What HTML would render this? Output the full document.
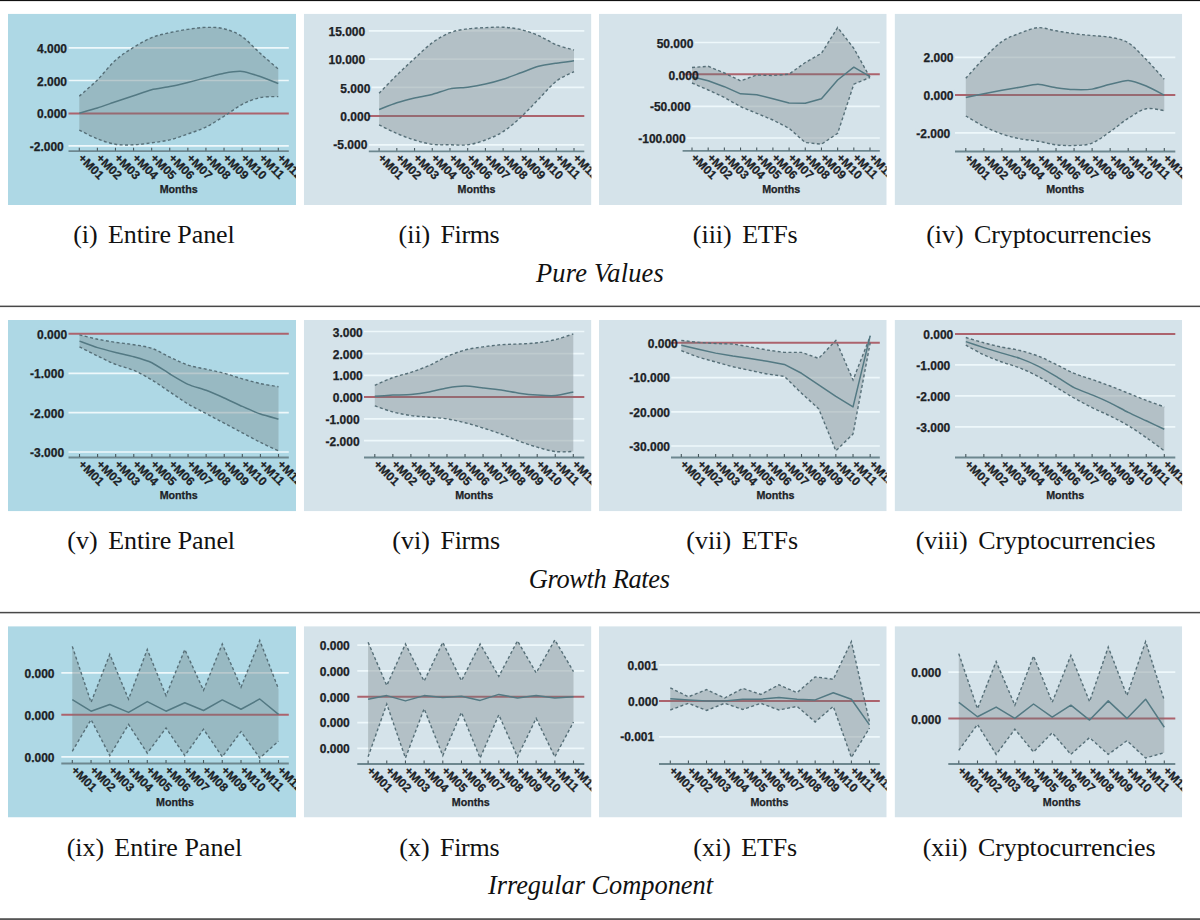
<!DOCTYPE html>
<html><head><meta charset="utf-8"><style>
html,body{margin:0;padding:0;background:#fff;}
body{width:1200px;height:920px;position:relative;overflow:hidden;}
svg{position:absolute;left:0;top:0;}
.yl{font-family:"Liberation Sans",sans-serif;font-weight:bold;font-size:12px;fill:#1c2226;stroke:#1c2226;stroke-width:0.25px;}
.xl{font-family:"Liberation Sans",sans-serif;font-weight:bold;font-size:12px;fill:#1c2226;stroke:#1c2226;stroke-width:0.25px;}
.ml{font-family:"Liberation Sans",sans-serif;font-weight:bold;font-size:10.7px;fill:#1c2226;stroke:#1c2226;stroke-width:0.25px;}
.cap{font-family:"Liberation Serif",serif;font-size:26px;fill:#111;}
.tit{font-family:"Liberation Serif",serif;font-style:italic;font-size:26.4px;fill:#111;}
</style></head><body>
<svg width="1200" height="920" viewBox="0 0 1200 920">

<rect x="0" y="0" width="1200" height="1.1" fill="#111"/>
<rect x="0" y="305.6" width="1200" height="1.5" fill="#484848"/>
<rect x="0" y="611.85" width="1200" height="1.5" fill="#484848"/>
<rect x="0" y="918.2" width="1200" height="1.8" fill="#555"/>
<clipPath id="cp0"><rect x="8" y="13.7" width="288" height="191.3"/></clipPath>
<g clip-path="url(#cp0)">
<rect x="8" y="13.7" width="288" height="191.3" fill="#aed8e5"/>
<mask id="gm0" maskUnits="userSpaceOnUse" x="8" y="13.7" width="288" height="191.3"><rect x="8" y="13.7" width="288" height="191.3" fill="#fff"/><path d="M79.3,96.2 C82.32,93.48 91.36,85.88 97.39,79.88 C103.42,73.88 109.45,65.62 115.48,60.21 C121.51,54.8 127.54,51.2 133.57,47.43 C139.6,43.66 145.63,40.06 151.66,37.6 C157.69,35.14 163.72,34.06 169.75,32.68 C175.78,31.3 181.82,30.23 187.85,29.34 C193.88,28.45 199.91,27.47 205.94,27.37 C211.97,27.27 218,27.21 224.03,28.75 C230.06,30.29 236.09,32.52 242.12,36.62 C248.15,40.72 254.18,47.92 260.21,53.33 C266.24,58.74 275.28,66.44 278.3,69.06 L278.3,96.6 C275.28,96.76 266.24,96.27 260.21,97.58 C254.18,98.89 248.15,101.35 242.12,104.46 C236.09,107.57 230.06,112.49 224.03,116.26 C218,120.03 211.97,124.13 205.94,127.08 C199.91,130.03 193.88,131.83 187.85,133.96 C181.82,136.09 175.78,138.39 169.75,139.86 C163.72,141.34 157.69,141.99 151.66,142.81 C145.63,143.63 139.6,144.55 133.57,144.78 C127.54,145.01 121.51,145.17 115.48,144.19 C109.45,143.21 103.42,141.24 97.39,138.88 C91.36,136.52 82.32,131.5 79.3,130.03 Z" fill="#bbb"/></mask>
<g mask="url(#gm0)">
<line x1="68.5" y1="47.8" x2="288.8" y2="47.8" stroke="#eef8fb" stroke-width="1.7"/>
<line x1="68.5" y1="80.5" x2="288.8" y2="80.5" stroke="#eef8fb" stroke-width="1.7"/>
<line x1="68.5" y1="145.9" x2="288.8" y2="145.9" stroke="#eef8fb" stroke-width="1.7"/>
</g>
<rect x="35.98" y="42.9" width="32.22" height="11" fill="#aed8e5"/>
<rect x="35.98" y="75.3" width="32.22" height="11" fill="#aed8e5"/>
<rect x="35.98" y="107.9" width="32.22" height="11" fill="#aed8e5"/>
<rect x="28.78" y="140.8" width="36.22" height="11" fill="#aed8e5"/>
<line x1="68.5" y1="113.4" x2="288.8" y2="113.4" stroke="#ac636d" stroke-width="2"/>
<path d="M79.3,96.2 C82.32,93.48 91.36,85.88 97.39,79.88 C103.42,73.88 109.45,65.62 115.48,60.21 C121.51,54.8 127.54,51.2 133.57,47.43 C139.6,43.66 145.63,40.06 151.66,37.6 C157.69,35.14 163.72,34.06 169.75,32.68 C175.78,31.3 181.82,30.23 187.85,29.34 C193.88,28.45 199.91,27.47 205.94,27.37 C211.97,27.27 218,27.21 224.03,28.75 C230.06,30.29 236.09,32.52 242.12,36.62 C248.15,40.72 254.18,47.92 260.21,53.33 C266.24,58.74 275.28,66.44 278.3,69.06 L278.3,96.6 C275.28,96.76 266.24,96.27 260.21,97.58 C254.18,98.89 248.15,101.35 242.12,104.46 C236.09,107.57 230.06,112.49 224.03,116.26 C218,120.03 211.97,124.13 205.94,127.08 C199.91,130.03 193.88,131.83 187.85,133.96 C181.82,136.09 175.78,138.39 169.75,139.86 C163.72,141.34 157.69,141.99 151.66,142.81 C145.63,143.63 139.6,144.55 133.57,144.78 C127.54,145.01 121.51,145.17 115.48,144.19 C109.45,143.21 103.42,141.24 97.39,138.88 C91.36,136.52 82.32,131.5 79.3,130.03 Z" fill="rgba(110,120,125,0.33)"/>
<path d="M79.3,96.2 C82.32,93.48 91.36,85.88 97.39,79.88 C103.42,73.88 109.45,65.62 115.48,60.21 C121.51,54.8 127.54,51.2 133.57,47.43 C139.6,43.66 145.63,40.06 151.66,37.6 C157.69,35.14 163.72,34.06 169.75,32.68 C175.78,31.3 181.82,30.23 187.85,29.34 C193.88,28.45 199.91,27.47 205.94,27.37 C211.97,27.27 218,27.21 224.03,28.75 C230.06,30.29 236.09,32.52 242.12,36.62 C248.15,40.72 254.18,47.92 260.21,53.33 C266.24,58.74 275.28,66.44 278.3,69.06" fill="none" stroke="#566f78" stroke-width="1.4" stroke-dasharray="3,2.4"/>
<path d="M79.3,130.03 C82.32,131.5 91.36,136.52 97.39,138.88 C103.42,141.24 109.45,143.21 115.48,144.19 C121.51,145.17 127.54,145.01 133.57,144.78 C139.6,144.55 145.63,143.63 151.66,142.81 C157.69,141.99 163.72,141.34 169.75,139.86 C175.78,138.39 181.82,136.09 187.85,133.96 C193.88,131.83 199.91,130.03 205.94,127.08 C211.97,124.13 218,120.03 224.03,116.26 C230.06,112.49 236.09,107.57 242.12,104.46 C248.15,101.35 254.18,98.89 260.21,97.58 C266.24,96.27 275.28,96.76 278.3,96.6" fill="none" stroke="#566f78" stroke-width="1.4" stroke-dasharray="3,2.4"/>
<path d="M79.3,113.2 C81.11,112.68 93.77,109.14 97.39,108 C101.01,106.86 111.86,103.02 115.48,101.8 C119.1,100.58 129.95,96.96 133.57,95.75 C137.19,94.54 148.05,90.62 151.66,89.7 C155.28,88.78 166.14,87.33 169.75,86.6 C173.37,85.87 184.23,83.28 187.85,82.4 C191.46,81.52 202.32,78.72 205.94,77.8 C209.55,76.88 220.41,73.84 224.03,73.2 C227.65,72.56 238.5,71.07 242.12,71.4 C245.74,71.73 256.59,75.29 260.21,76.5 C263.83,77.71 276.49,82.8 278.3,83.5" fill="none" stroke="#537983" stroke-width="1.5" stroke-linejoin="round"/>
<line x1="68.5" y1="151.2" x2="288.8" y2="151.2" stroke="#6d878f" stroke-width="1.8"/>
<line x1="79.3" y1="147.8" x2="79.3" y2="150.7" stroke="#46575d" stroke-width="1.1"/>
<line x1="97.39" y1="147.8" x2="97.39" y2="150.7" stroke="#46575d" stroke-width="1.1"/>
<line x1="115.48" y1="147.8" x2="115.48" y2="150.7" stroke="#46575d" stroke-width="1.1"/>
<line x1="133.57" y1="147.8" x2="133.57" y2="150.7" stroke="#46575d" stroke-width="1.1"/>
<line x1="151.66" y1="147.8" x2="151.66" y2="150.7" stroke="#46575d" stroke-width="1.1"/>
<line x1="169.75" y1="147.8" x2="169.75" y2="150.7" stroke="#46575d" stroke-width="1.1"/>
<line x1="187.85" y1="147.8" x2="187.85" y2="150.7" stroke="#46575d" stroke-width="1.1"/>
<line x1="205.94" y1="147.8" x2="205.94" y2="150.7" stroke="#46575d" stroke-width="1.1"/>
<line x1="224.03" y1="147.8" x2="224.03" y2="150.7" stroke="#46575d" stroke-width="1.1"/>
<line x1="242.12" y1="147.8" x2="242.12" y2="150.7" stroke="#46575d" stroke-width="1.1"/>
<line x1="260.21" y1="147.8" x2="260.21" y2="150.7" stroke="#46575d" stroke-width="1.1"/>
<line x1="278.3" y1="147.8" x2="278.3" y2="150.7" stroke="#46575d" stroke-width="1.1"/>
<text x="67" y="53.1" text-anchor="end" class="yl">4.000</text>
<text x="67" y="85.5" text-anchor="end" class="yl">2.000</text>
<text x="67" y="118.1" text-anchor="end" class="yl">0.000</text>
<text x="63.8" y="151" text-anchor="end" class="yl">-2.000</text>
<text transform="translate(77.5,158.7) rotate(45)" class="xl">+M01</text>
<text transform="translate(95.59,158.7) rotate(45)" class="xl">+M02</text>
<text transform="translate(113.68,158.7) rotate(45)" class="xl">+M03</text>
<text transform="translate(131.77,158.7) rotate(45)" class="xl">+M04</text>
<text transform="translate(149.86,158.7) rotate(45)" class="xl">+M05</text>
<text transform="translate(167.95,158.7) rotate(45)" class="xl">+M06</text>
<text transform="translate(186.05,158.7) rotate(45)" class="xl">+M07</text>
<text transform="translate(204.14,158.7) rotate(45)" class="xl">+M08</text>
<text transform="translate(222.23,158.7) rotate(45)" class="xl">+M09</text>
<text transform="translate(240.32,158.7) rotate(45)" class="xl">+M10</text>
<text transform="translate(258.41,158.7) rotate(45)" class="xl">+M11</text>
<text transform="translate(276.5,158.7) rotate(45)" class="xl">+M12</text>
<text x="178.65" y="192.8" text-anchor="middle" class="ml">Months</text>
</g>
<clipPath id="cp1"><rect x="303.8" y="13.7" width="287.6" height="191.3"/></clipPath>
<g clip-path="url(#cp1)">
<rect x="303.8" y="13.7" width="287.6" height="191.3" fill="#d5e3ea"/>
<mask id="gm1" maskUnits="userSpaceOnUse" x="303.8" y="13.7" width="287.6" height="191.3"><rect x="303.8" y="13.7" width="287.6" height="191.3" fill="#fff"/><path d="M379.1,93.2 C382.05,90.2 390.91,81 396.82,75.2 C402.72,69.4 408.63,63.8 414.54,58.4 C420.44,53 426.35,47.08 432.25,42.8 C438.16,38.52 444.07,35.04 449.97,32.72 C455.88,30.4 461.78,29.72 467.69,28.88 C473.6,28.04 479.5,27.96 485.41,27.68 C491.32,27.4 497.22,26.88 503.13,27.2 C509.03,27.52 514.94,28.2 520.85,29.6 C526.75,31 532.66,33.08 538.56,35.6 C544.47,38.12 550.38,42.32 556.28,44.72 C562.19,47.12 571.05,49.12 574,50 L574,71.6 C571.05,73.2 562.19,76.6 556.28,81.2 C550.38,85.8 544.47,93.2 538.56,99.2 C532.66,105.2 526.75,111.8 520.85,117.2 C514.94,122.6 509.03,127.8 503.13,131.6 C497.22,135.4 491.32,137.8 485.41,140 C479.5,142.2 473.6,144 467.69,144.8 C461.78,145.6 455.88,144.88 449.97,144.8 C444.07,144.72 438.16,145.12 432.25,144.32 C426.35,143.52 420.44,141.8 414.54,140 C408.63,138.2 402.72,136.04 396.82,133.52 C390.91,131 382.05,126.32 379.1,124.88 Z" fill="#bbb"/></mask>
<g mask="url(#gm1)">
<line x1="368.8" y1="30.8" x2="584.3" y2="30.8" stroke="#eef8fb" stroke-width="1.7"/>
<line x1="368.8" y1="59.1" x2="584.3" y2="59.1" stroke="#eef8fb" stroke-width="1.7"/>
<line x1="368.8" y1="87.4" x2="584.3" y2="87.4" stroke="#eef8fb" stroke-width="1.7"/>
<line x1="368.8" y1="144.8" x2="584.3" y2="144.8" stroke="#eef8fb" stroke-width="1.7"/>
</g>
<rect x="327.51" y="25.5" width="38.89" height="11" fill="#d5e3ea"/>
<rect x="327.51" y="53.8" width="38.89" height="11" fill="#d5e3ea"/>
<rect x="339.38" y="82.7" width="32.22" height="11" fill="#d5e3ea"/>
<rect x="339.38" y="110.6" width="32.22" height="11" fill="#d5e3ea"/>
<rect x="332.38" y="139.2" width="36.22" height="11" fill="#d5e3ea"/>
<line x1="368.8" y1="116" x2="584.3" y2="116" stroke="#ac636d" stroke-width="2"/>
<path d="M379.1,93.2 C382.05,90.2 390.91,81 396.82,75.2 C402.72,69.4 408.63,63.8 414.54,58.4 C420.44,53 426.35,47.08 432.25,42.8 C438.16,38.52 444.07,35.04 449.97,32.72 C455.88,30.4 461.78,29.72 467.69,28.88 C473.6,28.04 479.5,27.96 485.41,27.68 C491.32,27.4 497.22,26.88 503.13,27.2 C509.03,27.52 514.94,28.2 520.85,29.6 C526.75,31 532.66,33.08 538.56,35.6 C544.47,38.12 550.38,42.32 556.28,44.72 C562.19,47.12 571.05,49.12 574,50 L574,71.6 C571.05,73.2 562.19,76.6 556.28,81.2 C550.38,85.8 544.47,93.2 538.56,99.2 C532.66,105.2 526.75,111.8 520.85,117.2 C514.94,122.6 509.03,127.8 503.13,131.6 C497.22,135.4 491.32,137.8 485.41,140 C479.5,142.2 473.6,144 467.69,144.8 C461.78,145.6 455.88,144.88 449.97,144.8 C444.07,144.72 438.16,145.12 432.25,144.32 C426.35,143.52 420.44,141.8 414.54,140 C408.63,138.2 402.72,136.04 396.82,133.52 C390.91,131 382.05,126.32 379.1,124.88 Z" fill="rgba(110,120,125,0.33)"/>
<path d="M379.1,93.2 C382.05,90.2 390.91,81 396.82,75.2 C402.72,69.4 408.63,63.8 414.54,58.4 C420.44,53 426.35,47.08 432.25,42.8 C438.16,38.52 444.07,35.04 449.97,32.72 C455.88,30.4 461.78,29.72 467.69,28.88 C473.6,28.04 479.5,27.96 485.41,27.68 C491.32,27.4 497.22,26.88 503.13,27.2 C509.03,27.52 514.94,28.2 520.85,29.6 C526.75,31 532.66,33.08 538.56,35.6 C544.47,38.12 550.38,42.32 556.28,44.72 C562.19,47.12 571.05,49.12 574,50" fill="none" stroke="#566f78" stroke-width="1.4" stroke-dasharray="3,2.4"/>
<path d="M379.1,124.88 C382.05,126.32 390.91,131 396.82,133.52 C402.72,136.04 408.63,138.2 414.54,140 C420.44,141.8 426.35,143.52 432.25,144.32 C438.16,145.12 444.07,144.72 449.97,144.8 C455.88,144.88 461.78,145.6 467.69,144.8 C473.6,144 479.5,142.2 485.41,140 C491.32,137.8 497.22,135.4 503.13,131.6 C509.03,127.8 514.94,122.6 520.85,117.2 C526.75,111.8 532.66,105.2 538.56,99.2 C544.47,93.2 550.38,85.8 556.28,81.2 C562.19,76.6 571.05,73.2 574,71.6" fill="none" stroke="#566f78" stroke-width="1.4" stroke-dasharray="3,2.4"/>
<path d="M379.1,109.52 C380.87,108.85 393.27,103.95 396.82,102.8 C400.36,101.65 410.99,98.84 414.54,98 C418.08,97.16 428.71,95.31 432.25,94.4 C435.8,93.49 446.43,89.6 449.97,88.88 C453.52,88.16 464.15,87.68 467.69,87.2 C471.23,86.72 481.87,84.87 485.41,84.08 C488.95,83.29 499.58,80.41 503.13,79.28 C506.67,78.15 517.3,74.1 520.85,72.8 C524.39,71.5 535.02,67.28 538.56,66.32 C542.11,65.36 552.74,63.75 556.28,63.2 C559.83,62.65 572.23,61.04 574,60.8" fill="none" stroke="#537983" stroke-width="1.5" stroke-linejoin="round"/>
<line x1="368.8" y1="151.3" x2="584.3" y2="151.3" stroke="#6d878f" stroke-width="1.8"/>
<line x1="379.1" y1="147.9" x2="379.1" y2="150.8" stroke="#46575d" stroke-width="1.1"/>
<line x1="396.82" y1="147.9" x2="396.82" y2="150.8" stroke="#46575d" stroke-width="1.1"/>
<line x1="414.54" y1="147.9" x2="414.54" y2="150.8" stroke="#46575d" stroke-width="1.1"/>
<line x1="432.25" y1="147.9" x2="432.25" y2="150.8" stroke="#46575d" stroke-width="1.1"/>
<line x1="449.97" y1="147.9" x2="449.97" y2="150.8" stroke="#46575d" stroke-width="1.1"/>
<line x1="467.69" y1="147.9" x2="467.69" y2="150.8" stroke="#46575d" stroke-width="1.1"/>
<line x1="485.41" y1="147.9" x2="485.41" y2="150.8" stroke="#46575d" stroke-width="1.1"/>
<line x1="503.13" y1="147.9" x2="503.13" y2="150.8" stroke="#46575d" stroke-width="1.1"/>
<line x1="520.85" y1="147.9" x2="520.85" y2="150.8" stroke="#46575d" stroke-width="1.1"/>
<line x1="538.56" y1="147.9" x2="538.56" y2="150.8" stroke="#46575d" stroke-width="1.1"/>
<line x1="556.28" y1="147.9" x2="556.28" y2="150.8" stroke="#46575d" stroke-width="1.1"/>
<line x1="574" y1="147.9" x2="574" y2="150.8" stroke="#46575d" stroke-width="1.1"/>
<text x="365.2" y="35.7" text-anchor="end" class="yl">15.000</text>
<text x="365.2" y="64" text-anchor="end" class="yl">10.000</text>
<text x="370.4" y="92.9" text-anchor="end" class="yl">5.000</text>
<text x="370.4" y="120.8" text-anchor="end" class="yl">0.000</text>
<text x="367.4" y="149.4" text-anchor="end" class="yl">-5.000</text>
<text transform="translate(377.3,158.8) rotate(45)" class="xl">+M01</text>
<text transform="translate(395.02,158.8) rotate(45)" class="xl">+M02</text>
<text transform="translate(412.74,158.8) rotate(45)" class="xl">+M03</text>
<text transform="translate(430.45,158.8) rotate(45)" class="xl">+M04</text>
<text transform="translate(448.17,158.8) rotate(45)" class="xl">+M05</text>
<text transform="translate(465.89,158.8) rotate(45)" class="xl">+M06</text>
<text transform="translate(483.61,158.8) rotate(45)" class="xl">+M07</text>
<text transform="translate(501.33,158.8) rotate(45)" class="xl">+M08</text>
<text transform="translate(519.05,158.8) rotate(45)" class="xl">+M09</text>
<text transform="translate(536.76,158.8) rotate(45)" class="xl">+M10</text>
<text transform="translate(554.48,158.8) rotate(45)" class="xl">+M11</text>
<text transform="translate(572.2,158.8) rotate(45)" class="xl">+M12</text>
<text x="476.55" y="192.8" text-anchor="middle" class="ml">Months</text>
</g>
<clipPath id="cp2"><rect x="599" y="13.7" width="287.7" height="191.3"/></clipPath>
<g clip-path="url(#cp2)">
<rect x="599" y="13.7" width="287.7" height="191.3" fill="#d5e3ea"/>
<mask id="gm2" maskUnits="userSpaceOnUse" x="599" y="13.7" width="287.7" height="191.3"><rect x="599" y="13.7" width="287.7" height="191.3" fill="#fff"/><path d="M692,67.5 L708.18,66.33 L724.36,73 L740.55,80.83 L756.73,75 L772.91,75.5 L789.09,74.17 L805.27,62.5 L821.45,53.33 L837.64,27.5 L853.82,48.33 L870,77.5 L870,77.5 L853.82,84.17 L837.64,133.33 L821.45,144.17 L805.27,142.5 L789.09,128.33 L772.91,120 L756.73,113.33 L740.55,106.67 L724.36,97.5 L708.18,90 L692,83 Z" fill="#bbb"/></mask>
<g mask="url(#gm2)">
<line x1="682.6" y1="42.5" x2="879.8" y2="42.5" stroke="#eef8fb" stroke-width="1.7"/>
<line x1="682.6" y1="106.3" x2="879.8" y2="106.3" stroke="#eef8fb" stroke-width="1.7"/>
<line x1="682.6" y1="138" x2="879.8" y2="138" stroke="#eef8fb" stroke-width="1.7"/>
</g>
<rect x="655.71" y="38.2" width="38.89" height="11" fill="#d5e3ea"/>
<rect x="667.58" y="69.5" width="32.22" height="11" fill="#d5e3ea"/>
<rect x="648.91" y="100.8" width="42.89" height="11" fill="#d5e3ea"/>
<rect x="637.24" y="132.6" width="49.56" height="11" fill="#d5e3ea"/>
<line x1="682.6" y1="74.3" x2="879.8" y2="74.3" stroke="#ac636d" stroke-width="2"/>
<path d="M692,67.5 L708.18,66.33 L724.36,73 L740.55,80.83 L756.73,75 L772.91,75.5 L789.09,74.17 L805.27,62.5 L821.45,53.33 L837.64,27.5 L853.82,48.33 L870,77.5 L870,77.5 L853.82,84.17 L837.64,133.33 L821.45,144.17 L805.27,142.5 L789.09,128.33 L772.91,120 L756.73,113.33 L740.55,106.67 L724.36,97.5 L708.18,90 L692,83 Z" fill="rgba(110,120,125,0.33)"/>
<path d="M692,67.5 L708.18,66.33 L724.36,73 L740.55,80.83 L756.73,75 L772.91,75.5 L789.09,74.17 L805.27,62.5 L821.45,53.33 L837.64,27.5 L853.82,48.33 L870,77.5" fill="none" stroke="#566f78" stroke-width="1.4" stroke-dasharray="3,2.4"/>
<path d="M692,83 L708.18,90 L724.36,97.5 L740.55,106.67 L756.73,113.33 L772.91,120 L789.09,128.33 L805.27,142.5 L821.45,144.17 L837.64,133.33 L853.82,84.17 L870,77.5" fill="none" stroke="#566f78" stroke-width="1.4" stroke-dasharray="3,2.4"/>
<path d="M692,76.67 L708.18,80.83 L724.36,86.67 L740.55,93.83 L756.73,94.67 L772.91,98.83 L789.09,103 L805.27,103.33 L821.45,98.67 L837.64,80 L853.82,67.17 L870,76.67" fill="none" stroke="#537983" stroke-width="1.5" stroke-linejoin="round"/>
<line x1="682.6" y1="150.9" x2="879.8" y2="150.9" stroke="#6d878f" stroke-width="1.8"/>
<line x1="692" y1="147.5" x2="692" y2="150.4" stroke="#46575d" stroke-width="1.1"/>
<line x1="708.18" y1="147.5" x2="708.18" y2="150.4" stroke="#46575d" stroke-width="1.1"/>
<line x1="724.36" y1="147.5" x2="724.36" y2="150.4" stroke="#46575d" stroke-width="1.1"/>
<line x1="740.55" y1="147.5" x2="740.55" y2="150.4" stroke="#46575d" stroke-width="1.1"/>
<line x1="756.73" y1="147.5" x2="756.73" y2="150.4" stroke="#46575d" stroke-width="1.1"/>
<line x1="772.91" y1="147.5" x2="772.91" y2="150.4" stroke="#46575d" stroke-width="1.1"/>
<line x1="789.09" y1="147.5" x2="789.09" y2="150.4" stroke="#46575d" stroke-width="1.1"/>
<line x1="805.27" y1="147.5" x2="805.27" y2="150.4" stroke="#46575d" stroke-width="1.1"/>
<line x1="821.45" y1="147.5" x2="821.45" y2="150.4" stroke="#46575d" stroke-width="1.1"/>
<line x1="837.64" y1="147.5" x2="837.64" y2="150.4" stroke="#46575d" stroke-width="1.1"/>
<line x1="853.82" y1="147.5" x2="853.82" y2="150.4" stroke="#46575d" stroke-width="1.1"/>
<line x1="870" y1="147.5" x2="870" y2="150.4" stroke="#46575d" stroke-width="1.1"/>
<text x="693.4" y="48.4" text-anchor="end" class="yl">50.000</text>
<text x="698.6" y="79.7" text-anchor="end" class="yl">0.000</text>
<text x="690.6" y="111" text-anchor="end" class="yl">-50.000</text>
<text x="685.6" y="142.8" text-anchor="end" class="yl">-100.000</text>
<text transform="translate(690.2,158.4) rotate(45)" class="xl">+M01</text>
<text transform="translate(706.38,158.4) rotate(45)" class="xl">+M02</text>
<text transform="translate(722.56,158.4) rotate(45)" class="xl">+M03</text>
<text transform="translate(738.75,158.4) rotate(45)" class="xl">+M04</text>
<text transform="translate(754.93,158.4) rotate(45)" class="xl">+M05</text>
<text transform="translate(771.11,158.4) rotate(45)" class="xl">+M06</text>
<text transform="translate(787.29,158.4) rotate(45)" class="xl">+M07</text>
<text transform="translate(803.47,158.4) rotate(45)" class="xl">+M08</text>
<text transform="translate(819.65,158.4) rotate(45)" class="xl">+M09</text>
<text transform="translate(835.84,158.4) rotate(45)" class="xl">+M10</text>
<text transform="translate(852.02,158.4) rotate(45)" class="xl">+M11</text>
<text transform="translate(868.2,158.4) rotate(45)" class="xl">+M12</text>
<text x="781.2" y="192.8" text-anchor="middle" class="ml">Months</text>
</g>
<clipPath id="cp3"><rect x="894.6" y="13.7" width="287.6" height="191.3"/></clipPath>
<g clip-path="url(#cp3)">
<rect x="894.6" y="13.7" width="287.6" height="191.3" fill="#d5e3ea"/>
<mask id="gm3" maskUnits="userSpaceOnUse" x="894.6" y="13.7" width="287.6" height="191.3"><rect x="894.6" y="13.7" width="287.6" height="191.3" fill="#fff"/><path d="M965.8,78.32 C968.81,75 977.83,64.52 983.85,58.4 C989.86,52.28 995.88,45.8 1001.89,41.6 C1007.91,37.4 1013.92,35.52 1019.94,33.2 C1025.95,30.88 1031.97,28.08 1037.98,27.68 C1044,27.28 1050.01,29.8 1056.03,30.8 C1062.04,31.8 1068.06,32.88 1074.07,33.68 C1080.09,34.48 1086.1,35 1092.12,35.6 C1098.13,36.2 1104.15,36.08 1110.16,37.28 C1116.18,38.48 1122.19,39.08 1128.21,42.8 C1134.22,46.52 1140.24,53.52 1146.25,59.6 C1152.27,65.68 1161.29,76 1164.3,79.28 L1164.3,110.72 C1161.29,110.4 1152.27,107.52 1146.25,108.8 C1140.24,110.08 1134.22,114.6 1128.21,118.4 C1122.19,122.2 1116.18,127.48 1110.16,131.6 C1104.15,135.72 1098.13,140.8 1092.12,143.12 C1086.1,145.44 1080.09,145.24 1074.07,145.52 C1068.06,145.8 1062.04,145.52 1056.03,144.8 C1050.01,144.08 1044,142.2 1037.98,141.2 C1031.97,140.2 1025.95,140 1019.94,138.8 C1013.92,137.6 1007.91,136.08 1001.89,134 C995.88,131.92 989.86,129.32 983.85,126.32 C977.83,123.32 968.81,117.72 965.8,116 Z" fill="#bbb"/></mask>
<g mask="url(#gm3)">
<line x1="955" y1="57.4" x2="1175.3" y2="57.4" stroke="#eef8fb" stroke-width="1.7"/>
<line x1="955" y1="132.8" x2="1175.3" y2="132.8" stroke="#eef8fb" stroke-width="1.7"/>
</g>
<rect x="922.48" y="52.2" width="32.22" height="11" fill="#d5e3ea"/>
<rect x="922.48" y="89.8" width="32.22" height="11" fill="#d5e3ea"/>
<rect x="915.28" y="127.5" width="36.22" height="11" fill="#d5e3ea"/>
<line x1="955" y1="95.1" x2="1175.3" y2="95.1" stroke="#ac636d" stroke-width="2"/>
<path d="M965.8,78.32 C968.81,75 977.83,64.52 983.85,58.4 C989.86,52.28 995.88,45.8 1001.89,41.6 C1007.91,37.4 1013.92,35.52 1019.94,33.2 C1025.95,30.88 1031.97,28.08 1037.98,27.68 C1044,27.28 1050.01,29.8 1056.03,30.8 C1062.04,31.8 1068.06,32.88 1074.07,33.68 C1080.09,34.48 1086.1,35 1092.12,35.6 C1098.13,36.2 1104.15,36.08 1110.16,37.28 C1116.18,38.48 1122.19,39.08 1128.21,42.8 C1134.22,46.52 1140.24,53.52 1146.25,59.6 C1152.27,65.68 1161.29,76 1164.3,79.28 L1164.3,110.72 C1161.29,110.4 1152.27,107.52 1146.25,108.8 C1140.24,110.08 1134.22,114.6 1128.21,118.4 C1122.19,122.2 1116.18,127.48 1110.16,131.6 C1104.15,135.72 1098.13,140.8 1092.12,143.12 C1086.1,145.44 1080.09,145.24 1074.07,145.52 C1068.06,145.8 1062.04,145.52 1056.03,144.8 C1050.01,144.08 1044,142.2 1037.98,141.2 C1031.97,140.2 1025.95,140 1019.94,138.8 C1013.92,137.6 1007.91,136.08 1001.89,134 C995.88,131.92 989.86,129.32 983.85,126.32 C977.83,123.32 968.81,117.72 965.8,116 Z" fill="rgba(110,120,125,0.33)"/>
<path d="M965.8,78.32 C968.81,75 977.83,64.52 983.85,58.4 C989.86,52.28 995.88,45.8 1001.89,41.6 C1007.91,37.4 1013.92,35.52 1019.94,33.2 C1025.95,30.88 1031.97,28.08 1037.98,27.68 C1044,27.28 1050.01,29.8 1056.03,30.8 C1062.04,31.8 1068.06,32.88 1074.07,33.68 C1080.09,34.48 1086.1,35 1092.12,35.6 C1098.13,36.2 1104.15,36.08 1110.16,37.28 C1116.18,38.48 1122.19,39.08 1128.21,42.8 C1134.22,46.52 1140.24,53.52 1146.25,59.6 C1152.27,65.68 1161.29,76 1164.3,79.28" fill="none" stroke="#566f78" stroke-width="1.4" stroke-dasharray="3,2.4"/>
<path d="M965.8,116 C968.81,117.72 977.83,123.32 983.85,126.32 C989.86,129.32 995.88,131.92 1001.89,134 C1007.91,136.08 1013.92,137.6 1019.94,138.8 C1025.95,140 1031.97,140.2 1037.98,141.2 C1044,142.2 1050.01,144.08 1056.03,144.8 C1062.04,145.52 1068.06,145.8 1074.07,145.52 C1080.09,145.24 1086.1,145.44 1092.12,143.12 C1098.13,140.8 1104.15,135.72 1110.16,131.6 C1116.18,127.48 1122.19,122.2 1128.21,118.4 C1134.22,114.6 1140.24,110.08 1146.25,108.8 C1152.27,107.52 1161.29,110.4 1164.3,110.72" fill="none" stroke="#566f78" stroke-width="1.4" stroke-dasharray="3,2.4"/>
<path d="M965.8,97.52 C967.6,97.14 980.24,94.4 983.85,93.68 C987.45,92.96 998.28,90.97 1001.89,90.32 C1005.5,89.67 1016.33,87.8 1019.94,87.2 C1023.55,86.6 1034.37,84.27 1037.98,84.32 C1041.59,84.37 1052.42,87.15 1056.03,87.68 C1059.64,88.21 1070.46,89.46 1074.07,89.6 C1077.68,89.74 1088.51,89.65 1092.12,89.12 C1095.73,88.59 1106.55,85.18 1110.16,84.32 C1113.77,83.46 1124.6,80.31 1128.21,80.48 C1131.82,80.65 1142.65,84.54 1146.25,86 C1149.86,87.46 1162.5,94.21 1164.3,95.12" fill="none" stroke="#537983" stroke-width="1.5" stroke-linejoin="round"/>
<line x1="955" y1="151.5" x2="1175.3" y2="151.5" stroke="#6d878f" stroke-width="1.8"/>
<line x1="965.8" y1="148.1" x2="965.8" y2="151" stroke="#46575d" stroke-width="1.1"/>
<line x1="983.85" y1="148.1" x2="983.85" y2="151" stroke="#46575d" stroke-width="1.1"/>
<line x1="1001.89" y1="148.1" x2="1001.89" y2="151" stroke="#46575d" stroke-width="1.1"/>
<line x1="1019.94" y1="148.1" x2="1019.94" y2="151" stroke="#46575d" stroke-width="1.1"/>
<line x1="1037.98" y1="148.1" x2="1037.98" y2="151" stroke="#46575d" stroke-width="1.1"/>
<line x1="1056.03" y1="148.1" x2="1056.03" y2="151" stroke="#46575d" stroke-width="1.1"/>
<line x1="1074.07" y1="148.1" x2="1074.07" y2="151" stroke="#46575d" stroke-width="1.1"/>
<line x1="1092.12" y1="148.1" x2="1092.12" y2="151" stroke="#46575d" stroke-width="1.1"/>
<line x1="1110.16" y1="148.1" x2="1110.16" y2="151" stroke="#46575d" stroke-width="1.1"/>
<line x1="1128.21" y1="148.1" x2="1128.21" y2="151" stroke="#46575d" stroke-width="1.1"/>
<line x1="1146.25" y1="148.1" x2="1146.25" y2="151" stroke="#46575d" stroke-width="1.1"/>
<line x1="1164.3" y1="148.1" x2="1164.3" y2="151" stroke="#46575d" stroke-width="1.1"/>
<text x="953.5" y="62.4" text-anchor="end" class="yl">2.000</text>
<text x="953.5" y="100" text-anchor="end" class="yl">0.000</text>
<text x="950.3" y="137.7" text-anchor="end" class="yl">-2.000</text>
<text transform="translate(964,159) rotate(45)" class="xl">+M01</text>
<text transform="translate(982.05,159) rotate(45)" class="xl">+M02</text>
<text transform="translate(1000.09,159) rotate(45)" class="xl">+M03</text>
<text transform="translate(1018.14,159) rotate(45)" class="xl">+M04</text>
<text transform="translate(1036.18,159) rotate(45)" class="xl">+M05</text>
<text transform="translate(1054.23,159) rotate(45)" class="xl">+M06</text>
<text transform="translate(1072.27,159) rotate(45)" class="xl">+M07</text>
<text transform="translate(1090.32,159) rotate(45)" class="xl">+M08</text>
<text transform="translate(1108.36,159) rotate(45)" class="xl">+M09</text>
<text transform="translate(1126.41,159) rotate(45)" class="xl">+M10</text>
<text transform="translate(1144.45,159) rotate(45)" class="xl">+M11</text>
<text transform="translate(1162.5,159) rotate(45)" class="xl">+M12</text>
<text x="1065.15" y="192.8" text-anchor="middle" class="ml">Months</text>
</g>
<clipPath id="cp4"><rect x="8" y="319.9" width="288" height="191.4"/></clipPath>
<g clip-path="url(#cp4)">
<rect x="8" y="319.9" width="288" height="191.4" fill="#aed8e5"/>
<mask id="gm4" maskUnits="userSpaceOnUse" x="8" y="319.9" width="288" height="191.4"><rect x="8" y="319.9" width="288" height="191.4" fill="#fff"/><path d="M79.5,334.88 C82.52,335.6 91.56,337.96 97.59,339.2 C103.62,340.44 109.65,341.4 115.68,342.32 C121.71,343.24 127.74,343.72 133.77,344.72 C139.8,345.72 145.83,346.24 151.86,348.32 C157.89,350.4 163.92,354.4 169.95,357.2 C175.98,360 182.02,363.12 188.05,365.12 C194.08,367.12 200.11,367.84 206.14,369.2 C212.17,370.56 218.2,371.68 224.23,373.28 C230.26,374.88 236.29,377.08 242.32,378.8 C248.35,380.52 254.38,382.28 260.41,383.6 C266.44,384.92 275.48,386.2 278.5,386.72 L278.5,450.8 C275.48,449.4 266.44,445.4 260.41,442.4 C254.38,439.4 248.35,436 242.32,432.8 C236.29,429.6 230.26,426.4 224.23,423.2 C218.2,420 212.17,416.8 206.14,413.6 C200.11,410.4 194.08,407.6 188.05,404 C182.02,400.4 175.98,396 169.95,392 C163.92,388 157.89,383.6 151.86,380 C145.83,376.4 139.8,373 133.77,370.4 C127.74,367.8 121.71,366.8 115.68,364.4 C109.65,362 103.62,358.92 97.59,356 C91.56,353.08 82.52,348.4 79.5,346.88 Z" fill="#bbb"/></mask>
<g mask="url(#gm4)">
<line x1="68.5" y1="373.3" x2="288.8" y2="373.3" stroke="#eef8fb" stroke-width="1.7"/>
<line x1="68.5" y1="412.6" x2="288.8" y2="412.6" stroke="#eef8fb" stroke-width="1.7"/>
<line x1="68.5" y1="452" x2="288.8" y2="452" stroke="#eef8fb" stroke-width="1.7"/>
</g>
<rect x="36.08" y="328.6" width="32.22" height="11" fill="#aed8e5"/>
<rect x="29.08" y="367.9" width="36.22" height="11" fill="#aed8e5"/>
<rect x="29.08" y="407.5" width="36.22" height="11" fill="#aed8e5"/>
<rect x="29.08" y="446.4" width="36.22" height="11" fill="#aed8e5"/>
<line x1="68.5" y1="333.7" x2="288.8" y2="333.7" stroke="#ac636d" stroke-width="2"/>
<path d="M79.5,334.88 C82.52,335.6 91.56,337.96 97.59,339.2 C103.62,340.44 109.65,341.4 115.68,342.32 C121.71,343.24 127.74,343.72 133.77,344.72 C139.8,345.72 145.83,346.24 151.86,348.32 C157.89,350.4 163.92,354.4 169.95,357.2 C175.98,360 182.02,363.12 188.05,365.12 C194.08,367.12 200.11,367.84 206.14,369.2 C212.17,370.56 218.2,371.68 224.23,373.28 C230.26,374.88 236.29,377.08 242.32,378.8 C248.35,380.52 254.38,382.28 260.41,383.6 C266.44,384.92 275.48,386.2 278.5,386.72 L278.5,450.8 C275.48,449.4 266.44,445.4 260.41,442.4 C254.38,439.4 248.35,436 242.32,432.8 C236.29,429.6 230.26,426.4 224.23,423.2 C218.2,420 212.17,416.8 206.14,413.6 C200.11,410.4 194.08,407.6 188.05,404 C182.02,400.4 175.98,396 169.95,392 C163.92,388 157.89,383.6 151.86,380 C145.83,376.4 139.8,373 133.77,370.4 C127.74,367.8 121.71,366.8 115.68,364.4 C109.65,362 103.62,358.92 97.59,356 C91.56,353.08 82.52,348.4 79.5,346.88 Z" fill="rgba(110,120,125,0.33)"/>
<path d="M79.5,334.88 C82.52,335.6 91.56,337.96 97.59,339.2 C103.62,340.44 109.65,341.4 115.68,342.32 C121.71,343.24 127.74,343.72 133.77,344.72 C139.8,345.72 145.83,346.24 151.86,348.32 C157.89,350.4 163.92,354.4 169.95,357.2 C175.98,360 182.02,363.12 188.05,365.12 C194.08,367.12 200.11,367.84 206.14,369.2 C212.17,370.56 218.2,371.68 224.23,373.28 C230.26,374.88 236.29,377.08 242.32,378.8 C248.35,380.52 254.38,382.28 260.41,383.6 C266.44,384.92 275.48,386.2 278.5,386.72" fill="none" stroke="#566f78" stroke-width="1.4" stroke-dasharray="3,2.4"/>
<path d="M79.5,346.88 C82.52,348.4 91.56,353.08 97.59,356 C103.62,358.92 109.65,362 115.68,364.4 C121.71,366.8 127.74,367.8 133.77,370.4 C139.8,373 145.83,376.4 151.86,380 C157.89,383.6 163.92,388 169.95,392 C175.98,396 182.02,400.4 188.05,404 C194.08,407.6 200.11,410.4 206.14,413.6 C212.17,416.8 218.2,420 224.23,423.2 C230.26,426.4 236.29,429.6 242.32,432.8 C248.35,436 254.38,439.4 260.41,442.4 C266.44,445.4 275.48,449.4 278.5,450.8" fill="none" stroke="#566f78" stroke-width="1.4" stroke-dasharray="3,2.4"/>
<path d="M79.5,341.12 C81.31,341.77 93.97,346.47 97.59,347.6 C101.21,348.73 112.06,351.49 115.68,352.4 C119.3,353.31 130.15,355.69 133.77,356.72 C137.39,357.75 148.25,360.99 151.86,362.72 C155.48,364.45 166.34,371.84 169.95,374 C173.57,376.16 184.43,382.69 188.05,384.32 C191.66,385.95 202.52,388.95 206.14,390.32 C209.75,391.69 220.61,396.39 224.23,398 C227.85,399.61 238.7,404.79 242.32,406.4 C245.94,408.01 256.79,412.81 260.41,414.08 C264.03,415.35 276.69,418.62 278.5,419.12" fill="none" stroke="#537983" stroke-width="1.5" stroke-linejoin="round"/>
<line x1="68.5" y1="457.5" x2="288.8" y2="457.5" stroke="#6d878f" stroke-width="1.8"/>
<line x1="79.5" y1="454.1" x2="79.5" y2="457" stroke="#46575d" stroke-width="1.1"/>
<line x1="97.59" y1="454.1" x2="97.59" y2="457" stroke="#46575d" stroke-width="1.1"/>
<line x1="115.68" y1="454.1" x2="115.68" y2="457" stroke="#46575d" stroke-width="1.1"/>
<line x1="133.77" y1="454.1" x2="133.77" y2="457" stroke="#46575d" stroke-width="1.1"/>
<line x1="151.86" y1="454.1" x2="151.86" y2="457" stroke="#46575d" stroke-width="1.1"/>
<line x1="169.95" y1="454.1" x2="169.95" y2="457" stroke="#46575d" stroke-width="1.1"/>
<line x1="188.05" y1="454.1" x2="188.05" y2="457" stroke="#46575d" stroke-width="1.1"/>
<line x1="206.14" y1="454.1" x2="206.14" y2="457" stroke="#46575d" stroke-width="1.1"/>
<line x1="224.23" y1="454.1" x2="224.23" y2="457" stroke="#46575d" stroke-width="1.1"/>
<line x1="242.32" y1="454.1" x2="242.32" y2="457" stroke="#46575d" stroke-width="1.1"/>
<line x1="260.41" y1="454.1" x2="260.41" y2="457" stroke="#46575d" stroke-width="1.1"/>
<line x1="278.5" y1="454.1" x2="278.5" y2="457" stroke="#46575d" stroke-width="1.1"/>
<text x="67.1" y="338.8" text-anchor="end" class="yl">0.000</text>
<text x="64.1" y="378.1" text-anchor="end" class="yl">-1.000</text>
<text x="64.1" y="417.7" text-anchor="end" class="yl">-2.000</text>
<text x="64.1" y="456.6" text-anchor="end" class="yl">-3.000</text>
<text transform="translate(77.7,465) rotate(45)" class="xl">+M01</text>
<text transform="translate(95.79,465) rotate(45)" class="xl">+M02</text>
<text transform="translate(113.88,465) rotate(45)" class="xl">+M03</text>
<text transform="translate(131.97,465) rotate(45)" class="xl">+M04</text>
<text transform="translate(150.06,465) rotate(45)" class="xl">+M05</text>
<text transform="translate(168.15,465) rotate(45)" class="xl">+M06</text>
<text transform="translate(186.25,465) rotate(45)" class="xl">+M07</text>
<text transform="translate(204.34,465) rotate(45)" class="xl">+M08</text>
<text transform="translate(222.43,465) rotate(45)" class="xl">+M09</text>
<text transform="translate(240.52,465) rotate(45)" class="xl">+M10</text>
<text transform="translate(258.61,465) rotate(45)" class="xl">+M11</text>
<text transform="translate(276.7,465) rotate(45)" class="xl">+M12</text>
<text x="178.65" y="499.1" text-anchor="middle" class="ml">Months</text>
</g>
<clipPath id="cp5"><rect x="303.8" y="319.9" width="287.6" height="191.4"/></clipPath>
<g clip-path="url(#cp5)">
<rect x="303.8" y="319.9" width="287.6" height="191.4" fill="#d5e3ea"/>
<mask id="gm5" maskUnits="userSpaceOnUse" x="303.8" y="319.9" width="287.6" height="191.4"><rect x="303.8" y="319.9" width="287.6" height="191.4" fill="#fff"/><path d="M374.8,385.28 C377.81,384 386.83,379.76 392.85,377.6 C398.86,375.44 404.88,374.32 410.89,372.32 C416.91,370.32 422.92,368.24 428.94,365.6 C434.95,362.96 440.97,359.08 446.98,356.48 C453,353.88 459.01,351.6 465.03,350 C471.04,348.4 477.06,347.76 483.07,346.88 C489.09,346 495.1,345.2 501.12,344.72 C507.13,344.24 513.15,344.32 519.16,344 C525.18,343.68 531.19,343.52 537.21,342.8 C543.22,342.08 549.24,341.16 555.25,339.68 C561.27,338.2 570.29,334.88 573.3,333.92 L573.3,451.52 C570.29,451.52 561.27,452.24 555.25,451.52 C549.24,450.8 543.22,448.92 537.21,447.2 C531.19,445.48 525.18,443.4 519.16,441.2 C513.15,439 507.13,436.2 501.12,434 C495.1,431.8 489.09,429.88 483.07,428 C477.06,426.12 471.04,424.24 465.03,422.72 C459.01,421.2 453,419.8 446.98,418.88 C440.97,417.96 434.95,417.76 428.94,417.2 C422.92,416.64 416.91,416.4 410.89,415.52 C404.88,414.64 398.86,413.52 392.85,411.92 C386.83,410.32 377.81,406.92 374.8,405.92 Z" fill="#bbb"/></mask>
<g mask="url(#gm5)">
<line x1="364" y1="331.5" x2="584.3" y2="331.5" stroke="#eef8fb" stroke-width="1.7"/>
<line x1="364" y1="353.6" x2="584.3" y2="353.6" stroke="#eef8fb" stroke-width="1.7"/>
<line x1="364" y1="375.4" x2="584.3" y2="375.4" stroke="#eef8fb" stroke-width="1.7"/>
<line x1="364" y1="418.9" x2="584.3" y2="418.9" stroke="#eef8fb" stroke-width="1.7"/>
<line x1="364" y1="440.7" x2="584.3" y2="440.7" stroke="#eef8fb" stroke-width="1.7"/>
</g>
<rect x="331.78" y="326.9" width="32.22" height="11" fill="#d5e3ea"/>
<rect x="331.78" y="348.5" width="32.22" height="11" fill="#d5e3ea"/>
<rect x="331.78" y="370.1" width="32.22" height="11" fill="#d5e3ea"/>
<rect x="331.78" y="392.1" width="32.22" height="11" fill="#d5e3ea"/>
<rect x="324.58" y="414" width="36.22" height="11" fill="#d5e3ea"/>
<rect x="324.58" y="435.5" width="36.22" height="11" fill="#d5e3ea"/>
<line x1="364" y1="397" x2="584.3" y2="397" stroke="#ac636d" stroke-width="2"/>
<path d="M374.8,385.28 C377.81,384 386.83,379.76 392.85,377.6 C398.86,375.44 404.88,374.32 410.89,372.32 C416.91,370.32 422.92,368.24 428.94,365.6 C434.95,362.96 440.97,359.08 446.98,356.48 C453,353.88 459.01,351.6 465.03,350 C471.04,348.4 477.06,347.76 483.07,346.88 C489.09,346 495.1,345.2 501.12,344.72 C507.13,344.24 513.15,344.32 519.16,344 C525.18,343.68 531.19,343.52 537.21,342.8 C543.22,342.08 549.24,341.16 555.25,339.68 C561.27,338.2 570.29,334.88 573.3,333.92 L573.3,451.52 C570.29,451.52 561.27,452.24 555.25,451.52 C549.24,450.8 543.22,448.92 537.21,447.2 C531.19,445.48 525.18,443.4 519.16,441.2 C513.15,439 507.13,436.2 501.12,434 C495.1,431.8 489.09,429.88 483.07,428 C477.06,426.12 471.04,424.24 465.03,422.72 C459.01,421.2 453,419.8 446.98,418.88 C440.97,417.96 434.95,417.76 428.94,417.2 C422.92,416.64 416.91,416.4 410.89,415.52 C404.88,414.64 398.86,413.52 392.85,411.92 C386.83,410.32 377.81,406.92 374.8,405.92 Z" fill="rgba(110,120,125,0.33)"/>
<path d="M374.8,385.28 C377.81,384 386.83,379.76 392.85,377.6 C398.86,375.44 404.88,374.32 410.89,372.32 C416.91,370.32 422.92,368.24 428.94,365.6 C434.95,362.96 440.97,359.08 446.98,356.48 C453,353.88 459.01,351.6 465.03,350 C471.04,348.4 477.06,347.76 483.07,346.88 C489.09,346 495.1,345.2 501.12,344.72 C507.13,344.24 513.15,344.32 519.16,344 C525.18,343.68 531.19,343.52 537.21,342.8 C543.22,342.08 549.24,341.16 555.25,339.68 C561.27,338.2 570.29,334.88 573.3,333.92" fill="none" stroke="#566f78" stroke-width="1.4" stroke-dasharray="3,2.4"/>
<path d="M374.8,405.92 C377.81,406.92 386.83,410.32 392.85,411.92 C398.86,413.52 404.88,414.64 410.89,415.52 C416.91,416.4 422.92,416.64 428.94,417.2 C434.95,417.76 440.97,417.96 446.98,418.88 C453,419.8 459.01,421.2 465.03,422.72 C471.04,424.24 477.06,426.12 483.07,428 C489.09,429.88 495.1,431.8 501.12,434 C507.13,436.2 513.15,439 519.16,441.2 C525.18,443.4 531.19,445.48 537.21,447.2 C543.22,448.92 549.24,450.8 555.25,451.52 C561.27,452.24 570.29,451.52 573.3,451.52" fill="none" stroke="#566f78" stroke-width="1.4" stroke-dasharray="3,2.4"/>
<path d="M374.8,396.32 C376.6,396.2 389.24,395.31 392.85,395.12 C396.45,394.93 407.28,394.71 410.89,394.4 C414.5,394.09 425.33,392.65 428.94,392 C432.55,391.35 443.37,388.52 446.98,387.92 C450.59,387.32 461.42,386 465.03,386 C468.64,386 479.46,387.51 483.07,387.92 C486.68,388.33 497.51,389.55 501.12,390.08 C504.73,390.61 515.55,392.7 519.16,393.2 C522.77,393.7 533.6,394.88 537.21,395.12 C540.82,395.36 551.65,395.91 555.25,395.6 C558.86,395.29 571.5,392.36 573.3,392" fill="none" stroke="#537983" stroke-width="1.5" stroke-linejoin="round"/>
<line x1="364" y1="457.5" x2="584.3" y2="457.5" stroke="#6d878f" stroke-width="1.8"/>
<line x1="374.8" y1="454.1" x2="374.8" y2="457" stroke="#46575d" stroke-width="1.1"/>
<line x1="392.85" y1="454.1" x2="392.85" y2="457" stroke="#46575d" stroke-width="1.1"/>
<line x1="410.89" y1="454.1" x2="410.89" y2="457" stroke="#46575d" stroke-width="1.1"/>
<line x1="428.94" y1="454.1" x2="428.94" y2="457" stroke="#46575d" stroke-width="1.1"/>
<line x1="446.98" y1="454.1" x2="446.98" y2="457" stroke="#46575d" stroke-width="1.1"/>
<line x1="465.03" y1="454.1" x2="465.03" y2="457" stroke="#46575d" stroke-width="1.1"/>
<line x1="483.07" y1="454.1" x2="483.07" y2="457" stroke="#46575d" stroke-width="1.1"/>
<line x1="501.12" y1="454.1" x2="501.12" y2="457" stroke="#46575d" stroke-width="1.1"/>
<line x1="519.16" y1="454.1" x2="519.16" y2="457" stroke="#46575d" stroke-width="1.1"/>
<line x1="537.21" y1="454.1" x2="537.21" y2="457" stroke="#46575d" stroke-width="1.1"/>
<line x1="555.25" y1="454.1" x2="555.25" y2="457" stroke="#46575d" stroke-width="1.1"/>
<line x1="573.3" y1="454.1" x2="573.3" y2="457" stroke="#46575d" stroke-width="1.1"/>
<text x="362.8" y="337.1" text-anchor="end" class="yl">3.000</text>
<text x="362.8" y="358.7" text-anchor="end" class="yl">2.000</text>
<text x="362.8" y="380.3" text-anchor="end" class="yl">1.000</text>
<text x="362.8" y="402.3" text-anchor="end" class="yl">0.000</text>
<text x="359.6" y="424.2" text-anchor="end" class="yl">-1.000</text>
<text x="359.6" y="445.7" text-anchor="end" class="yl">-2.000</text>
<text transform="translate(373,465) rotate(45)" class="xl">+M01</text>
<text transform="translate(391.05,465) rotate(45)" class="xl">+M02</text>
<text transform="translate(409.09,465) rotate(45)" class="xl">+M03</text>
<text transform="translate(427.14,465) rotate(45)" class="xl">+M04</text>
<text transform="translate(445.18,465) rotate(45)" class="xl">+M05</text>
<text transform="translate(463.23,465) rotate(45)" class="xl">+M06</text>
<text transform="translate(481.27,465) rotate(45)" class="xl">+M07</text>
<text transform="translate(499.32,465) rotate(45)" class="xl">+M08</text>
<text transform="translate(517.36,465) rotate(45)" class="xl">+M09</text>
<text transform="translate(535.41,465) rotate(45)" class="xl">+M10</text>
<text transform="translate(553.45,465) rotate(45)" class="xl">+M11</text>
<text transform="translate(571.5,465) rotate(45)" class="xl">+M12</text>
<text x="474.15" y="499.1" text-anchor="middle" class="ml">Months</text>
</g>
<clipPath id="cp6"><rect x="599" y="319.9" width="287.7" height="191.4"/></clipPath>
<g clip-path="url(#cp6)">
<rect x="599" y="319.9" width="287.7" height="191.4" fill="#d5e3ea"/>
<mask id="gm6" maskUnits="userSpaceOnUse" x="599" y="319.9" width="287.7" height="191.4"><rect x="599" y="319.9" width="287.7" height="191.4" fill="#fff"/><path d="M681.3,340.4 L698.47,342.32 L715.65,343.52 L732.82,344 L749.99,346.88 L767.16,350 L784.34,352.4 L801.51,352.4 L818.68,358.4 L835.85,340.4 L853.03,380 L870.2,336.32 L870.2,342.8 L853.03,434 L835.85,450.8 L818.68,408.8 L801.51,393.2 L784.34,376.4 L767.16,374 L749.99,370.4 L732.82,366.8 L715.65,362 L698.47,357.2 L681.3,350.72 Z" fill="#bbb"/></mask>
<g mask="url(#gm6)">
<line x1="671" y1="377.6" x2="879.8" y2="377.6" stroke="#eef8fb" stroke-width="1.7"/>
<line x1="671" y1="411.9" x2="879.8" y2="411.9" stroke="#eef8fb" stroke-width="1.7"/>
<line x1="671" y1="446" x2="879.8" y2="446" stroke="#eef8fb" stroke-width="1.7"/>
</g>
<rect x="646.78" y="338.1" width="32.22" height="11" fill="#d5e3ea"/>
<rect x="628.31" y="372" width="42.89" height="11" fill="#d5e3ea"/>
<rect x="628.31" y="406.4" width="42.89" height="11" fill="#d5e3ea"/>
<rect x="628.31" y="440.5" width="42.89" height="11" fill="#d5e3ea"/>
<line x1="671" y1="342.8" x2="879.8" y2="342.8" stroke="#ac636d" stroke-width="2"/>
<path d="M681.3,340.4 L698.47,342.32 L715.65,343.52 L732.82,344 L749.99,346.88 L767.16,350 L784.34,352.4 L801.51,352.4 L818.68,358.4 L835.85,340.4 L853.03,380 L870.2,336.32 L870.2,342.8 L853.03,434 L835.85,450.8 L818.68,408.8 L801.51,393.2 L784.34,376.4 L767.16,374 L749.99,370.4 L732.82,366.8 L715.65,362 L698.47,357.2 L681.3,350.72 Z" fill="rgba(110,120,125,0.33)"/>
<path d="M681.3,340.4 L698.47,342.32 L715.65,343.52 L732.82,344 L749.99,346.88 L767.16,350 L784.34,352.4 L801.51,352.4 L818.68,358.4 L835.85,340.4 L853.03,380 L870.2,336.32" fill="none" stroke="#566f78" stroke-width="1.4" stroke-dasharray="3,2.4"/>
<path d="M681.3,350.72 L698.47,357.2 L715.65,362 L732.82,366.8 L749.99,370.4 L767.16,374 L784.34,376.4 L801.51,393.2 L818.68,408.8 L835.85,450.8 L853.03,434 L870.2,342.8" fill="none" stroke="#566f78" stroke-width="1.4" stroke-dasharray="3,2.4"/>
<path d="M681.3,345.2 L698.47,349.28 L715.65,353.12 L732.82,356 L749.99,358.4 L767.16,361.28 L784.34,364.4 L801.51,373.28 L818.68,384.8 L835.85,396.32 L853.03,406.88 L870.2,335.6" fill="none" stroke="#537983" stroke-width="1.5" stroke-linejoin="round"/>
<line x1="671" y1="457.5" x2="879.8" y2="457.5" stroke="#6d878f" stroke-width="1.8"/>
<line x1="681.3" y1="454.1" x2="681.3" y2="457" stroke="#46575d" stroke-width="1.1"/>
<line x1="698.47" y1="454.1" x2="698.47" y2="457" stroke="#46575d" stroke-width="1.1"/>
<line x1="715.65" y1="454.1" x2="715.65" y2="457" stroke="#46575d" stroke-width="1.1"/>
<line x1="732.82" y1="454.1" x2="732.82" y2="457" stroke="#46575d" stroke-width="1.1"/>
<line x1="749.99" y1="454.1" x2="749.99" y2="457" stroke="#46575d" stroke-width="1.1"/>
<line x1="767.16" y1="454.1" x2="767.16" y2="457" stroke="#46575d" stroke-width="1.1"/>
<line x1="784.34" y1="454.1" x2="784.34" y2="457" stroke="#46575d" stroke-width="1.1"/>
<line x1="801.51" y1="454.1" x2="801.51" y2="457" stroke="#46575d" stroke-width="1.1"/>
<line x1="818.68" y1="454.1" x2="818.68" y2="457" stroke="#46575d" stroke-width="1.1"/>
<line x1="835.85" y1="454.1" x2="835.85" y2="457" stroke="#46575d" stroke-width="1.1"/>
<line x1="853.03" y1="454.1" x2="853.03" y2="457" stroke="#46575d" stroke-width="1.1"/>
<line x1="870.2" y1="454.1" x2="870.2" y2="457" stroke="#46575d" stroke-width="1.1"/>
<text x="677.8" y="348.3" text-anchor="end" class="yl">0.000</text>
<text x="670" y="382.2" text-anchor="end" class="yl">-10.000</text>
<text x="670" y="416.6" text-anchor="end" class="yl">-20.000</text>
<text x="670" y="450.7" text-anchor="end" class="yl">-30.000</text>
<text transform="translate(679.5,465) rotate(45)" class="xl">+M01</text>
<text transform="translate(696.67,465) rotate(45)" class="xl">+M02</text>
<text transform="translate(713.85,465) rotate(45)" class="xl">+M03</text>
<text transform="translate(731.02,465) rotate(45)" class="xl">+M04</text>
<text transform="translate(748.19,465) rotate(45)" class="xl">+M05</text>
<text transform="translate(765.36,465) rotate(45)" class="xl">+M06</text>
<text transform="translate(782.54,465) rotate(45)" class="xl">+M07</text>
<text transform="translate(799.71,465) rotate(45)" class="xl">+M08</text>
<text transform="translate(816.88,465) rotate(45)" class="xl">+M09</text>
<text transform="translate(834.05,465) rotate(45)" class="xl">+M10</text>
<text transform="translate(851.23,465) rotate(45)" class="xl">+M11</text>
<text transform="translate(868.4,465) rotate(45)" class="xl">+M12</text>
<text x="775.4" y="499.1" text-anchor="middle" class="ml">Months</text>
</g>
<clipPath id="cp7"><rect x="894.6" y="319.9" width="287.6" height="191.4"/></clipPath>
<g clip-path="url(#cp7)">
<rect x="894.6" y="319.9" width="287.6" height="191.4" fill="#d5e3ea"/>
<mask id="gm7" maskUnits="userSpaceOnUse" x="894.6" y="319.9" width="287.6" height="191.4"><rect x="894.6" y="319.9" width="287.6" height="191.4" fill="#fff"/><path d="M965.8,337.52 C968.81,338.4 977.83,341.2 983.85,342.8 C989.86,344.4 995.88,345.84 1001.89,347.12 C1007.91,348.4 1013.92,349 1019.94,350.48 C1025.95,351.96 1031.97,353.68 1037.98,356 C1044,358.32 1050.01,361.52 1056.03,364.4 C1062.04,367.28 1068.06,370.76 1074.07,373.28 C1080.09,375.8 1086.1,377.4 1092.12,379.52 C1098.13,381.64 1104.15,383.72 1110.16,386 C1116.18,388.28 1122.19,390.8 1128.21,393.2 C1134.22,395.6 1140.24,398.12 1146.25,400.4 C1152.27,402.68 1161.29,405.8 1164.3,406.88 L1164.3,450.8 C1161.29,448.6 1152.27,441.8 1146.25,437.6 C1140.24,433.4 1134.22,429.2 1128.21,425.6 C1122.19,422 1116.18,419 1110.16,416 C1104.15,413 1098.13,410.6 1092.12,407.6 C1086.1,404.6 1080.09,401.4 1074.07,398 C1068.06,394.6 1062.04,390.8 1056.03,387.2 C1050.01,383.6 1044,379.6 1037.98,376.4 C1031.97,373.2 1025.95,370.4 1019.94,368 C1013.92,365.6 1007.91,364.2 1001.89,362 C995.88,359.8 989.86,357.6 983.85,354.8 C977.83,352 968.81,346.8 965.8,345.2 Z" fill="#bbb"/></mask>
<g mask="url(#gm7)">
<line x1="955" y1="364.9" x2="1175.3" y2="364.9" stroke="#eef8fb" stroke-width="1.7"/>
<line x1="955" y1="395.8" x2="1175.3" y2="395.8" stroke="#eef8fb" stroke-width="1.7"/>
<line x1="955" y1="426.8" x2="1175.3" y2="426.8" stroke="#eef8fb" stroke-width="1.7"/>
</g>
<rect x="922.28" y="328.5" width="32.22" height="11" fill="#d5e3ea"/>
<rect x="915.28" y="360.1" width="36.22" height="11" fill="#d5e3ea"/>
<rect x="915.28" y="391" width="36.22" height="11" fill="#d5e3ea"/>
<rect x="915.28" y="421.9" width="36.22" height="11" fill="#d5e3ea"/>
<line x1="955" y1="333.9" x2="1175.3" y2="333.9" stroke="#ac636d" stroke-width="2"/>
<path d="M965.8,337.52 C968.81,338.4 977.83,341.2 983.85,342.8 C989.86,344.4 995.88,345.84 1001.89,347.12 C1007.91,348.4 1013.92,349 1019.94,350.48 C1025.95,351.96 1031.97,353.68 1037.98,356 C1044,358.32 1050.01,361.52 1056.03,364.4 C1062.04,367.28 1068.06,370.76 1074.07,373.28 C1080.09,375.8 1086.1,377.4 1092.12,379.52 C1098.13,381.64 1104.15,383.72 1110.16,386 C1116.18,388.28 1122.19,390.8 1128.21,393.2 C1134.22,395.6 1140.24,398.12 1146.25,400.4 C1152.27,402.68 1161.29,405.8 1164.3,406.88 L1164.3,450.8 C1161.29,448.6 1152.27,441.8 1146.25,437.6 C1140.24,433.4 1134.22,429.2 1128.21,425.6 C1122.19,422 1116.18,419 1110.16,416 C1104.15,413 1098.13,410.6 1092.12,407.6 C1086.1,404.6 1080.09,401.4 1074.07,398 C1068.06,394.6 1062.04,390.8 1056.03,387.2 C1050.01,383.6 1044,379.6 1037.98,376.4 C1031.97,373.2 1025.95,370.4 1019.94,368 C1013.92,365.6 1007.91,364.2 1001.89,362 C995.88,359.8 989.86,357.6 983.85,354.8 C977.83,352 968.81,346.8 965.8,345.2 Z" fill="rgba(110,120,125,0.33)"/>
<path d="M965.8,337.52 C968.81,338.4 977.83,341.2 983.85,342.8 C989.86,344.4 995.88,345.84 1001.89,347.12 C1007.91,348.4 1013.92,349 1019.94,350.48 C1025.95,351.96 1031.97,353.68 1037.98,356 C1044,358.32 1050.01,361.52 1056.03,364.4 C1062.04,367.28 1068.06,370.76 1074.07,373.28 C1080.09,375.8 1086.1,377.4 1092.12,379.52 C1098.13,381.64 1104.15,383.72 1110.16,386 C1116.18,388.28 1122.19,390.8 1128.21,393.2 C1134.22,395.6 1140.24,398.12 1146.25,400.4 C1152.27,402.68 1161.29,405.8 1164.3,406.88" fill="none" stroke="#566f78" stroke-width="1.4" stroke-dasharray="3,2.4"/>
<path d="M965.8,345.2 C968.81,346.8 977.83,352 983.85,354.8 C989.86,357.6 995.88,359.8 1001.89,362 C1007.91,364.2 1013.92,365.6 1019.94,368 C1025.95,370.4 1031.97,373.2 1037.98,376.4 C1044,379.6 1050.01,383.6 1056.03,387.2 C1062.04,390.8 1068.06,394.6 1074.07,398 C1080.09,401.4 1086.1,404.6 1092.12,407.6 C1098.13,410.6 1104.15,413 1110.16,416 C1116.18,419 1122.19,422 1128.21,425.6 C1134.22,429.2 1140.24,433.4 1146.25,437.6 C1152.27,441.8 1161.29,448.6 1164.3,450.8" fill="none" stroke="#566f78" stroke-width="1.4" stroke-dasharray="3,2.4"/>
<path d="M965.8,341.6 C967.6,342.2 980.24,346.45 983.85,347.6 C987.45,348.75 998.28,352.04 1001.89,353.12 C1005.5,354.2 1016.33,357.1 1019.94,358.4 C1023.55,359.7 1034.37,364.28 1037.98,366.08 C1041.59,367.88 1052.42,374.24 1056.03,376.4 C1059.64,378.56 1070.46,385.83 1074.07,387.68 C1077.68,389.53 1088.51,393.37 1092.12,394.88 C1095.73,396.39 1106.55,401.05 1110.16,402.8 C1113.77,404.55 1124.6,410.6 1128.21,412.4 C1131.82,414.2 1142.65,419.12 1146.25,420.8 C1149.86,422.48 1162.5,428.36 1164.3,429.2" fill="none" stroke="#537983" stroke-width="1.5" stroke-linejoin="round"/>
<line x1="955" y1="457.5" x2="1175.3" y2="457.5" stroke="#6d878f" stroke-width="1.8"/>
<line x1="965.8" y1="454.1" x2="965.8" y2="457" stroke="#46575d" stroke-width="1.1"/>
<line x1="983.85" y1="454.1" x2="983.85" y2="457" stroke="#46575d" stroke-width="1.1"/>
<line x1="1001.89" y1="454.1" x2="1001.89" y2="457" stroke="#46575d" stroke-width="1.1"/>
<line x1="1019.94" y1="454.1" x2="1019.94" y2="457" stroke="#46575d" stroke-width="1.1"/>
<line x1="1037.98" y1="454.1" x2="1037.98" y2="457" stroke="#46575d" stroke-width="1.1"/>
<line x1="1056.03" y1="454.1" x2="1056.03" y2="457" stroke="#46575d" stroke-width="1.1"/>
<line x1="1074.07" y1="454.1" x2="1074.07" y2="457" stroke="#46575d" stroke-width="1.1"/>
<line x1="1092.12" y1="454.1" x2="1092.12" y2="457" stroke="#46575d" stroke-width="1.1"/>
<line x1="1110.16" y1="454.1" x2="1110.16" y2="457" stroke="#46575d" stroke-width="1.1"/>
<line x1="1128.21" y1="454.1" x2="1128.21" y2="457" stroke="#46575d" stroke-width="1.1"/>
<line x1="1146.25" y1="454.1" x2="1146.25" y2="457" stroke="#46575d" stroke-width="1.1"/>
<line x1="1164.3" y1="454.1" x2="1164.3" y2="457" stroke="#46575d" stroke-width="1.1"/>
<text x="953.3" y="338.7" text-anchor="end" class="yl">0.000</text>
<text x="950.3" y="370.3" text-anchor="end" class="yl">-1.000</text>
<text x="950.3" y="401.2" text-anchor="end" class="yl">-2.000</text>
<text x="950.3" y="432.1" text-anchor="end" class="yl">-3.000</text>
<text transform="translate(964,465) rotate(45)" class="xl">+M01</text>
<text transform="translate(982.05,465) rotate(45)" class="xl">+M02</text>
<text transform="translate(1000.09,465) rotate(45)" class="xl">+M03</text>
<text transform="translate(1018.14,465) rotate(45)" class="xl">+M04</text>
<text transform="translate(1036.18,465) rotate(45)" class="xl">+M05</text>
<text transform="translate(1054.23,465) rotate(45)" class="xl">+M06</text>
<text transform="translate(1072.27,465) rotate(45)" class="xl">+M07</text>
<text transform="translate(1090.32,465) rotate(45)" class="xl">+M08</text>
<text transform="translate(1108.36,465) rotate(45)" class="xl">+M09</text>
<text transform="translate(1126.41,465) rotate(45)" class="xl">+M10</text>
<text transform="translate(1144.45,465) rotate(45)" class="xl">+M11</text>
<text transform="translate(1162.5,465) rotate(45)" class="xl">+M12</text>
<text x="1065.15" y="499.1" text-anchor="middle" class="ml">Months</text>
</g>
<clipPath id="cp8"><rect x="8" y="626.2" width="288" height="191.3"/></clipPath>
<g clip-path="url(#cp8)">
<rect x="8" y="626.2" width="288" height="191.3" fill="#aed8e5"/>
<mask id="gm8" maskUnits="userSpaceOnUse" x="8" y="626.2" width="288" height="191.3"><rect x="8" y="626.2" width="288" height="191.3" fill="#fff"/><path d="M72.3,646.4 L91.05,702.32 L109.79,654.32 L128.54,699.2 L147.28,649.52 L166.03,695.6 L184.77,649.52 L203.52,690.32 L222.26,644 L241.01,687.2 L259.75,640.4 L278.5,688.88 L278.5,741.2 L259.75,758 L241.01,731.6 L222.26,756.8 L203.52,729.2 L184.77,755.6 L166.03,728 L147.28,753.2 L128.54,724.4 L109.79,755.6 L91.05,719.6 L72.3,751.28 Z" fill="#bbb"/></mask>
<g mask="url(#gm8)">
<line x1="61.3" y1="672.8" x2="288.8" y2="672.8" stroke="#eef8fb" stroke-width="1.7"/>
<line x1="61.3" y1="756.8" x2="288.8" y2="756.8" stroke="#eef8fb" stroke-width="1.7"/>
</g>
<rect x="23.48" y="667.3" width="32.22" height="11" fill="#aed8e5"/>
<rect x="23.48" y="709.3" width="32.22" height="11" fill="#aed8e5"/>
<rect x="23.48" y="751.5" width="32.22" height="11" fill="#aed8e5"/>
<line x1="61.3" y1="714.8" x2="288.8" y2="714.8" stroke="#ac636d" stroke-width="2"/>
<path d="M72.3,646.4 L91.05,702.32 L109.79,654.32 L128.54,699.2 L147.28,649.52 L166.03,695.6 L184.77,649.52 L203.52,690.32 L222.26,644 L241.01,687.2 L259.75,640.4 L278.5,688.88 L278.5,741.2 L259.75,758 L241.01,731.6 L222.26,756.8 L203.52,729.2 L184.77,755.6 L166.03,728 L147.28,753.2 L128.54,724.4 L109.79,755.6 L91.05,719.6 L72.3,751.28 Z" fill="rgba(110,120,125,0.33)"/>
<path d="M72.3,646.4 L91.05,702.32 L109.79,654.32 L128.54,699.2 L147.28,649.52 L166.03,695.6 L184.77,649.52 L203.52,690.32 L222.26,644 L241.01,687.2 L259.75,640.4 L278.5,688.88" fill="none" stroke="#566f78" stroke-width="1.4" stroke-dasharray="3,2.4"/>
<path d="M72.3,751.28 L91.05,719.6 L109.79,755.6 L128.54,724.4 L147.28,753.2 L166.03,728 L184.77,755.6 L203.52,729.2 L222.26,756.8 L241.01,731.6 L259.75,758 L278.5,741.2" fill="none" stroke="#566f78" stroke-width="1.4" stroke-dasharray="3,2.4"/>
<path d="M72.3,699.68 L91.05,711.2 L109.79,704.48 L128.54,712.4 L147.28,701.6 L166.03,711.2 L184.77,702.8 L203.52,710.48 L222.26,699.92 L241.01,709.28 L259.75,698.96 L278.5,714.32" fill="none" stroke="#537983" stroke-width="1.5" stroke-linejoin="round"/>
<line x1="61.3" y1="763.5" x2="288.8" y2="763.5" stroke="#6d878f" stroke-width="1.8"/>
<line x1="72.3" y1="760.1" x2="72.3" y2="763" stroke="#46575d" stroke-width="1.1"/>
<line x1="91.05" y1="760.1" x2="91.05" y2="763" stroke="#46575d" stroke-width="1.1"/>
<line x1="109.79" y1="760.1" x2="109.79" y2="763" stroke="#46575d" stroke-width="1.1"/>
<line x1="128.54" y1="760.1" x2="128.54" y2="763" stroke="#46575d" stroke-width="1.1"/>
<line x1="147.28" y1="760.1" x2="147.28" y2="763" stroke="#46575d" stroke-width="1.1"/>
<line x1="166.03" y1="760.1" x2="166.03" y2="763" stroke="#46575d" stroke-width="1.1"/>
<line x1="184.77" y1="760.1" x2="184.77" y2="763" stroke="#46575d" stroke-width="1.1"/>
<line x1="203.52" y1="760.1" x2="203.52" y2="763" stroke="#46575d" stroke-width="1.1"/>
<line x1="222.26" y1="760.1" x2="222.26" y2="763" stroke="#46575d" stroke-width="1.1"/>
<line x1="241.01" y1="760.1" x2="241.01" y2="763" stroke="#46575d" stroke-width="1.1"/>
<line x1="259.75" y1="760.1" x2="259.75" y2="763" stroke="#46575d" stroke-width="1.1"/>
<line x1="278.5" y1="760.1" x2="278.5" y2="763" stroke="#46575d" stroke-width="1.1"/>
<text x="54.5" y="677.5" text-anchor="end" class="yl">0.000</text>
<text x="54.5" y="719.5" text-anchor="end" class="yl">0.000</text>
<text x="54.5" y="761.7" text-anchor="end" class="yl">0.000</text>
<text transform="translate(70.5,771) rotate(45)" class="xl">+M01</text>
<text transform="translate(89.25,771) rotate(45)" class="xl">+M02</text>
<text transform="translate(107.99,771) rotate(45)" class="xl">+M03</text>
<text transform="translate(126.74,771) rotate(45)" class="xl">+M04</text>
<text transform="translate(145.48,771) rotate(45)" class="xl">+M05</text>
<text transform="translate(164.23,771) rotate(45)" class="xl">+M06</text>
<text transform="translate(182.97,771) rotate(45)" class="xl">+M07</text>
<text transform="translate(201.72,771) rotate(45)" class="xl">+M08</text>
<text transform="translate(220.46,771) rotate(45)" class="xl">+M09</text>
<text transform="translate(239.21,771) rotate(45)" class="xl">+M10</text>
<text transform="translate(257.95,771) rotate(45)" class="xl">+M11</text>
<text transform="translate(276.7,771) rotate(45)" class="xl">+M12</text>
<text x="175.05" y="806" text-anchor="middle" class="ml">Months</text>
</g>
<clipPath id="cp9"><rect x="303.8" y="626.2" width="287.6" height="191.3"/></clipPath>
<g clip-path="url(#cp9)">
<rect x="303.8" y="626.2" width="287.6" height="191.3" fill="#d5e3ea"/>
<mask id="gm9" maskUnits="userSpaceOnUse" x="303.8" y="626.2" width="287.6" height="191.3"><rect x="303.8" y="626.2" width="287.6" height="191.3" fill="#fff"/><path d="M368.1,642.32 L386.77,685.52 L405.45,644 L424.12,681.2 L442.79,642.32 L461.46,680.72 L480.14,644 L498.81,676.4 L517.48,640.88 L536.15,672.8 L554.83,639.92 L573.5,671.6 L573.5,722 L554.83,756.8 L536.15,718.4 L517.48,756.8 L498.81,714.8 L480.14,758 L461.46,712.4 L442.79,755.6 L424.12,708.8 L405.45,758 L386.77,704 L368.1,756.8 Z" fill="#bbb"/></mask>
<g mask="url(#gm9)">
<line x1="357.3" y1="645.2" x2="584.3" y2="645.2" stroke="#eef8fb" stroke-width="1.7"/>
<line x1="357.3" y1="670.9" x2="584.3" y2="670.9" stroke="#eef8fb" stroke-width="1.7"/>
<line x1="357.3" y1="722.7" x2="584.3" y2="722.7" stroke="#eef8fb" stroke-width="1.7"/>
<line x1="357.3" y1="748.4" x2="584.3" y2="748.4" stroke="#eef8fb" stroke-width="1.7"/>
</g>
<rect x="318.78" y="640.1" width="32.22" height="11" fill="#d5e3ea"/>
<rect x="318.78" y="665.9" width="32.22" height="11" fill="#d5e3ea"/>
<rect x="318.78" y="691.7" width="32.22" height="11" fill="#d5e3ea"/>
<rect x="318.78" y="717.1" width="32.22" height="11" fill="#d5e3ea"/>
<rect x="318.78" y="742.8" width="32.22" height="11" fill="#d5e3ea"/>
<line x1="357.3" y1="696.8" x2="584.3" y2="696.8" stroke="#ac636d" stroke-width="2"/>
<path d="M368.1,642.32 L386.77,685.52 L405.45,644 L424.12,681.2 L442.79,642.32 L461.46,680.72 L480.14,644 L498.81,676.4 L517.48,640.88 L536.15,672.8 L554.83,639.92 L573.5,671.6 L573.5,722 L554.83,756.8 L536.15,718.4 L517.48,756.8 L498.81,714.8 L480.14,758 L461.46,712.4 L442.79,755.6 L424.12,708.8 L405.45,758 L386.77,704 L368.1,756.8 Z" fill="rgba(110,120,125,0.33)"/>
<path d="M368.1,642.32 L386.77,685.52 L405.45,644 L424.12,681.2 L442.79,642.32 L461.46,680.72 L480.14,644 L498.81,676.4 L517.48,640.88 L536.15,672.8 L554.83,639.92 L573.5,671.6" fill="none" stroke="#566f78" stroke-width="1.4" stroke-dasharray="3,2.4"/>
<path d="M368.1,756.8 L386.77,704 L405.45,758 L424.12,708.8 L442.79,755.6 L461.46,712.4 L480.14,758 L498.81,714.8 L517.48,756.8 L536.15,718.4 L554.83,756.8 L573.5,722" fill="none" stroke="#566f78" stroke-width="1.4" stroke-dasharray="3,2.4"/>
<path d="M368.1,699.2 L386.77,695.6 L405.45,700.88 L424.12,695.6 L442.79,697.52 L461.46,696.32 L480.14,700.4 L498.81,694.4 L517.48,698 L536.15,695.6 L554.83,698 L573.5,696.8" fill="none" stroke="#537983" stroke-width="1.5" stroke-linejoin="round"/>
<line x1="357.3" y1="764" x2="584.3" y2="764" stroke="#6d878f" stroke-width="1.8"/>
<line x1="368.1" y1="760.6" x2="368.1" y2="763.5" stroke="#46575d" stroke-width="1.1"/>
<line x1="386.77" y1="760.6" x2="386.77" y2="763.5" stroke="#46575d" stroke-width="1.1"/>
<line x1="405.45" y1="760.6" x2="405.45" y2="763.5" stroke="#46575d" stroke-width="1.1"/>
<line x1="424.12" y1="760.6" x2="424.12" y2="763.5" stroke="#46575d" stroke-width="1.1"/>
<line x1="442.79" y1="760.6" x2="442.79" y2="763.5" stroke="#46575d" stroke-width="1.1"/>
<line x1="461.46" y1="760.6" x2="461.46" y2="763.5" stroke="#46575d" stroke-width="1.1"/>
<line x1="480.14" y1="760.6" x2="480.14" y2="763.5" stroke="#46575d" stroke-width="1.1"/>
<line x1="498.81" y1="760.6" x2="498.81" y2="763.5" stroke="#46575d" stroke-width="1.1"/>
<line x1="517.48" y1="760.6" x2="517.48" y2="763.5" stroke="#46575d" stroke-width="1.1"/>
<line x1="536.15" y1="760.6" x2="536.15" y2="763.5" stroke="#46575d" stroke-width="1.1"/>
<line x1="554.83" y1="760.6" x2="554.83" y2="763.5" stroke="#46575d" stroke-width="1.1"/>
<line x1="573.5" y1="760.6" x2="573.5" y2="763.5" stroke="#46575d" stroke-width="1.1"/>
<text x="349.8" y="650.3" text-anchor="end" class="yl">0.000</text>
<text x="349.8" y="676.1" text-anchor="end" class="yl">0.000</text>
<text x="349.8" y="701.9" text-anchor="end" class="yl">0.000</text>
<text x="349.8" y="727.3" text-anchor="end" class="yl">0.000</text>
<text x="349.8" y="753" text-anchor="end" class="yl">0.000</text>
<text transform="translate(366.3,771.5) rotate(45)" class="xl">+M01</text>
<text transform="translate(384.97,771.5) rotate(45)" class="xl">+M02</text>
<text transform="translate(403.65,771.5) rotate(45)" class="xl">+M03</text>
<text transform="translate(422.32,771.5) rotate(45)" class="xl">+M04</text>
<text transform="translate(440.99,771.5) rotate(45)" class="xl">+M05</text>
<text transform="translate(459.66,771.5) rotate(45)" class="xl">+M06</text>
<text transform="translate(478.34,771.5) rotate(45)" class="xl">+M07</text>
<text transform="translate(497.01,771.5) rotate(45)" class="xl">+M08</text>
<text transform="translate(515.68,771.5) rotate(45)" class="xl">+M09</text>
<text transform="translate(534.35,771.5) rotate(45)" class="xl">+M10</text>
<text transform="translate(553.03,771.5) rotate(45)" class="xl">+M11</text>
<text transform="translate(571.7,771.5) rotate(45)" class="xl">+M12</text>
<text x="470.8" y="806" text-anchor="middle" class="ml">Months</text>
</g>
<clipPath id="cp10"><rect x="599" y="626.2" width="287.7" height="191.3"/></clipPath>
<g clip-path="url(#cp10)">
<rect x="599" y="626.2" width="287.7" height="191.3" fill="#d5e3ea"/>
<mask id="gm10" maskUnits="userSpaceOnUse" x="599" y="626.2" width="287.7" height="191.3"><rect x="599" y="626.2" width="287.7" height="191.3" fill="#fff"/><path d="M670.3,687.92 L688.41,696.8 L706.52,689.6 L724.63,698 L742.74,688.4 L760.85,694.4 L778.95,684.8 L797.06,692.72 L815.17,676.88 L833.28,679.28 L851.39,641.6 L869.5,722 L869.5,728 L851.39,757.52 L833.28,706.4 L815.17,722 L797.06,706.4 L778.95,710 L760.85,703.28 L742.74,709.52 L724.63,703.28 L706.52,710.48 L688.41,703.28 L670.3,710 Z" fill="#bbb"/></mask>
<g mask="url(#gm10)">
<line x1="659" y1="664.9" x2="879.8" y2="664.9" stroke="#eef8fb" stroke-width="1.7"/>
<line x1="659" y1="736.9" x2="879.8" y2="736.9" stroke="#eef8fb" stroke-width="1.7"/>
</g>
<rect x="626.58" y="659.8" width="32.22" height="11" fill="#d5e3ea"/>
<rect x="627.08" y="695.5" width="32.22" height="11" fill="#d5e3ea"/>
<rect x="619.18" y="731.2" width="36.22" height="11" fill="#d5e3ea"/>
<line x1="659" y1="700.9" x2="879.8" y2="700.9" stroke="#ac636d" stroke-width="2"/>
<path d="M670.3,687.92 L688.41,696.8 L706.52,689.6 L724.63,698 L742.74,688.4 L760.85,694.4 L778.95,684.8 L797.06,692.72 L815.17,676.88 L833.28,679.28 L851.39,641.6 L869.5,722 L869.5,728 L851.39,757.52 L833.28,706.4 L815.17,722 L797.06,706.4 L778.95,710 L760.85,703.28 L742.74,709.52 L724.63,703.28 L706.52,710.48 L688.41,703.28 L670.3,710 Z" fill="rgba(110,120,125,0.33)"/>
<path d="M670.3,687.92 L688.41,696.8 L706.52,689.6 L724.63,698 L742.74,688.4 L760.85,694.4 L778.95,684.8 L797.06,692.72 L815.17,676.88 L833.28,679.28 L851.39,641.6 L869.5,722" fill="none" stroke="#566f78" stroke-width="1.4" stroke-dasharray="3,2.4"/>
<path d="M670.3,710 L688.41,703.28 L706.52,710.48 L724.63,703.28 L742.74,709.52 L760.85,703.28 L778.95,710 L797.06,706.4 L815.17,722 L833.28,706.4 L851.39,757.52 L869.5,728" fill="none" stroke="#566f78" stroke-width="1.4" stroke-dasharray="3,2.4"/>
<path d="M670.3,698.72 L688.41,699.92 L706.52,700.88 L724.63,700.88 L742.74,699.2 L760.85,699.2 L778.95,697.52 L797.06,699.2 L815.17,699.92 L833.28,692.72 L851.39,699.2 L869.5,724.88" fill="none" stroke="#537983" stroke-width="1.5" stroke-linejoin="round"/>
<line x1="659" y1="764" x2="879.8" y2="764" stroke="#6d878f" stroke-width="1.8"/>
<line x1="670.3" y1="760.6" x2="670.3" y2="763.5" stroke="#46575d" stroke-width="1.1"/>
<line x1="688.41" y1="760.6" x2="688.41" y2="763.5" stroke="#46575d" stroke-width="1.1"/>
<line x1="706.52" y1="760.6" x2="706.52" y2="763.5" stroke="#46575d" stroke-width="1.1"/>
<line x1="724.63" y1="760.6" x2="724.63" y2="763.5" stroke="#46575d" stroke-width="1.1"/>
<line x1="742.74" y1="760.6" x2="742.74" y2="763.5" stroke="#46575d" stroke-width="1.1"/>
<line x1="760.85" y1="760.6" x2="760.85" y2="763.5" stroke="#46575d" stroke-width="1.1"/>
<line x1="778.95" y1="760.6" x2="778.95" y2="763.5" stroke="#46575d" stroke-width="1.1"/>
<line x1="797.06" y1="760.6" x2="797.06" y2="763.5" stroke="#46575d" stroke-width="1.1"/>
<line x1="815.17" y1="760.6" x2="815.17" y2="763.5" stroke="#46575d" stroke-width="1.1"/>
<line x1="833.28" y1="760.6" x2="833.28" y2="763.5" stroke="#46575d" stroke-width="1.1"/>
<line x1="851.39" y1="760.6" x2="851.39" y2="763.5" stroke="#46575d" stroke-width="1.1"/>
<line x1="869.5" y1="760.6" x2="869.5" y2="763.5" stroke="#46575d" stroke-width="1.1"/>
<text x="657.6" y="670" text-anchor="end" class="yl">0.001</text>
<text x="658.1" y="705.7" text-anchor="end" class="yl">0.000</text>
<text x="654.2" y="741.4" text-anchor="end" class="yl">-0.001</text>
<text transform="translate(668.5,771.5) rotate(45)" class="xl">+M01</text>
<text transform="translate(686.61,771.5) rotate(45)" class="xl">+M02</text>
<text transform="translate(704.72,771.5) rotate(45)" class="xl">+M03</text>
<text transform="translate(722.83,771.5) rotate(45)" class="xl">+M04</text>
<text transform="translate(740.94,771.5) rotate(45)" class="xl">+M05</text>
<text transform="translate(759.05,771.5) rotate(45)" class="xl">+M06</text>
<text transform="translate(777.15,771.5) rotate(45)" class="xl">+M07</text>
<text transform="translate(795.26,771.5) rotate(45)" class="xl">+M08</text>
<text transform="translate(813.37,771.5) rotate(45)" class="xl">+M09</text>
<text transform="translate(831.48,771.5) rotate(45)" class="xl">+M10</text>
<text transform="translate(849.59,771.5) rotate(45)" class="xl">+M11</text>
<text transform="translate(867.7,771.5) rotate(45)" class="xl">+M12</text>
<text x="769.4" y="806" text-anchor="middle" class="ml">Months</text>
</g>
<clipPath id="cp11"><rect x="894.6" y="626.2" width="287.6" height="191.3"/></clipPath>
<g clip-path="url(#cp11)">
<rect x="894.6" y="626.2" width="287.6" height="191.3" fill="#d5e3ea"/>
<mask id="gm11" maskUnits="userSpaceOnUse" x="894.6" y="626.2" width="287.6" height="191.3"><rect x="894.6" y="626.2" width="287.6" height="191.3" fill="#fff"/><path d="M958.8,653.6 L977.48,708.8 L996.16,661.52 L1014.85,705.2 L1033.53,656 L1052.21,702.32 L1070.89,655.28 L1089.57,701.6 L1108.25,647.12 L1126.94,695.6 L1145.62,641.6 L1164.3,700.4 L1164.3,752.72 L1145.62,758 L1126.94,740.72 L1108.25,754.4 L1089.57,737.6 L1070.89,754.4 L1052.21,732.8 L1033.53,752 L1014.85,729.2 L996.16,754.4 L977.48,724.4 L958.8,750.32 Z" fill="#bbb"/></mask>
<g mask="url(#gm11)">
<line x1="948.3" y1="672.1" x2="1175.3" y2="672.1" stroke="#eef8fb" stroke-width="1.7"/>
</g>
<rect x="910.18" y="666.7" width="32.22" height="11" fill="#d5e3ea"/>
<rect x="910.18" y="713.7" width="32.22" height="11" fill="#d5e3ea"/>
<line x1="948.3" y1="718.6" x2="1175.3" y2="718.6" stroke="#ac636d" stroke-width="2"/>
<path d="M958.8,653.6 L977.48,708.8 L996.16,661.52 L1014.85,705.2 L1033.53,656 L1052.21,702.32 L1070.89,655.28 L1089.57,701.6 L1108.25,647.12 L1126.94,695.6 L1145.62,641.6 L1164.3,700.4 L1164.3,752.72 L1145.62,758 L1126.94,740.72 L1108.25,754.4 L1089.57,737.6 L1070.89,754.4 L1052.21,732.8 L1033.53,752 L1014.85,729.2 L996.16,754.4 L977.48,724.4 L958.8,750.32 Z" fill="rgba(110,120,125,0.33)"/>
<path d="M958.8,653.6 L977.48,708.8 L996.16,661.52 L1014.85,705.2 L1033.53,656 L1052.21,702.32 L1070.89,655.28 L1089.57,701.6 L1108.25,647.12 L1126.94,695.6 L1145.62,641.6 L1164.3,700.4" fill="none" stroke="#566f78" stroke-width="1.4" stroke-dasharray="3,2.4"/>
<path d="M958.8,750.32 L977.48,724.4 L996.16,754.4 L1014.85,729.2 L1033.53,752 L1052.21,732.8 L1070.89,754.4 L1089.57,737.6 L1108.25,754.4 L1126.94,740.72 L1145.62,758 L1164.3,752.72" fill="none" stroke="#566f78" stroke-width="1.4" stroke-dasharray="3,2.4"/>
<path d="M958.8,702.32 L977.48,716.72 L996.16,707.12 L1014.85,718.4 L1033.53,704 L1052.21,717.2 L1070.89,705.2 L1089.57,720.08 L1108.25,700.88 L1126.94,718.4 L1145.62,699.2 L1164.3,727.28" fill="none" stroke="#537983" stroke-width="1.5" stroke-linejoin="round"/>
<line x1="948.3" y1="764" x2="1175.3" y2="764" stroke="#6d878f" stroke-width="1.8"/>
<line x1="958.8" y1="760.6" x2="958.8" y2="763.5" stroke="#46575d" stroke-width="1.1"/>
<line x1="977.48" y1="760.6" x2="977.48" y2="763.5" stroke="#46575d" stroke-width="1.1"/>
<line x1="996.16" y1="760.6" x2="996.16" y2="763.5" stroke="#46575d" stroke-width="1.1"/>
<line x1="1014.85" y1="760.6" x2="1014.85" y2="763.5" stroke="#46575d" stroke-width="1.1"/>
<line x1="1033.53" y1="760.6" x2="1033.53" y2="763.5" stroke="#46575d" stroke-width="1.1"/>
<line x1="1052.21" y1="760.6" x2="1052.21" y2="763.5" stroke="#46575d" stroke-width="1.1"/>
<line x1="1070.89" y1="760.6" x2="1070.89" y2="763.5" stroke="#46575d" stroke-width="1.1"/>
<line x1="1089.57" y1="760.6" x2="1089.57" y2="763.5" stroke="#46575d" stroke-width="1.1"/>
<line x1="1108.25" y1="760.6" x2="1108.25" y2="763.5" stroke="#46575d" stroke-width="1.1"/>
<line x1="1126.94" y1="760.6" x2="1126.94" y2="763.5" stroke="#46575d" stroke-width="1.1"/>
<line x1="1145.62" y1="760.6" x2="1145.62" y2="763.5" stroke="#46575d" stroke-width="1.1"/>
<line x1="1164.3" y1="760.6" x2="1164.3" y2="763.5" stroke="#46575d" stroke-width="1.1"/>
<text x="941.2" y="676.9" text-anchor="end" class="yl">0.000</text>
<text x="941.2" y="723.9" text-anchor="end" class="yl">0.000</text>
<text transform="translate(957,771.5) rotate(45)" class="xl">+M01</text>
<text transform="translate(975.68,771.5) rotate(45)" class="xl">+M02</text>
<text transform="translate(994.36,771.5) rotate(45)" class="xl">+M03</text>
<text transform="translate(1013.05,771.5) rotate(45)" class="xl">+M04</text>
<text transform="translate(1031.73,771.5) rotate(45)" class="xl">+M05</text>
<text transform="translate(1050.41,771.5) rotate(45)" class="xl">+M06</text>
<text transform="translate(1069.09,771.5) rotate(45)" class="xl">+M07</text>
<text transform="translate(1087.77,771.5) rotate(45)" class="xl">+M08</text>
<text transform="translate(1106.45,771.5) rotate(45)" class="xl">+M09</text>
<text transform="translate(1125.14,771.5) rotate(45)" class="xl">+M10</text>
<text transform="translate(1143.82,771.5) rotate(45)" class="xl">+M11</text>
<text transform="translate(1162.5,771.5) rotate(45)" class="xl">+M12</text>
<text x="1061.8" y="806" text-anchor="middle" class="ml">Months</text>
</g>
<text x="73.2" y="242.7" class="cap">(i)</text>
<text x="108" y="242.7" class="cap" textLength="126.7" lengthAdjust="spacing">Entire Panel</text>
<text x="398.5" y="242.7" class="cap">(ii)</text>
<text x="440.5" y="242.7" class="cap" textLength="59.2" lengthAdjust="spacing">Firms</text>
<text x="692.75" y="242.7" class="cap">(iii)</text>
<text x="742.2" y="242.7" class="cap" textLength="55.3" lengthAdjust="spacing">ETFs</text>
<text x="926.2" y="242.7" class="cap">(iv)</text>
<text x="974" y="242.7" class="cap" textLength="177.3" lengthAdjust="spacing">Cryptocurrencies</text>
<text x="536" y="281.7" class="tit" textLength="127.8" lengthAdjust="spacing">Pure Values</text>
<text x="67.25" y="549.3" class="cap">(v)</text>
<text x="108.25" y="549.3" class="cap" textLength="126.85" lengthAdjust="spacing">Entire Panel</text>
<text x="392.3" y="549.3" class="cap">(vi)</text>
<text x="440.5" y="549.3" class="cap" textLength="59.5" lengthAdjust="spacing">Firms</text>
<text x="686.3" y="549.3" class="cap">(vii)</text>
<text x="741.7" y="549.3" class="cap" textLength="56.3" lengthAdjust="spacing">ETFs</text>
<text x="915.7" y="549.3" class="cap">(viii)</text>
<text x="978.3" y="549.3" class="cap" textLength="177.2" lengthAdjust="spacing">Cryptocurrencies</text>
<text x="528.7" y="588.0" class="tit" textLength="141.3" lengthAdjust="spacing">Growth Rates</text>
<text x="66.7" y="855.6" class="cap">(ix)</text>
<text x="114.3" y="855.6" class="cap" textLength="127.9" lengthAdjust="spacing">Entire Panel</text>
<text x="399.3" y="855.6" class="cap">(x)</text>
<text x="440" y="855.6" class="cap" textLength="59.5" lengthAdjust="spacing">Firms</text>
<text x="693.3" y="855.6" class="cap">(xi)</text>
<text x="741.3" y="855.6" class="cap" textLength="55.9" lengthAdjust="spacing">ETFs</text>
<text x="922.7" y="855.6" class="cap">(xii)</text>
<text x="978" y="855.6" class="cap" textLength="177.5" lengthAdjust="spacing">Cryptocurrencies</text>
<text x="487.9" y="894.2" class="tit" textLength="225.1" lengthAdjust="spacing">Irregular Component</text>
</svg>
</body></html>
